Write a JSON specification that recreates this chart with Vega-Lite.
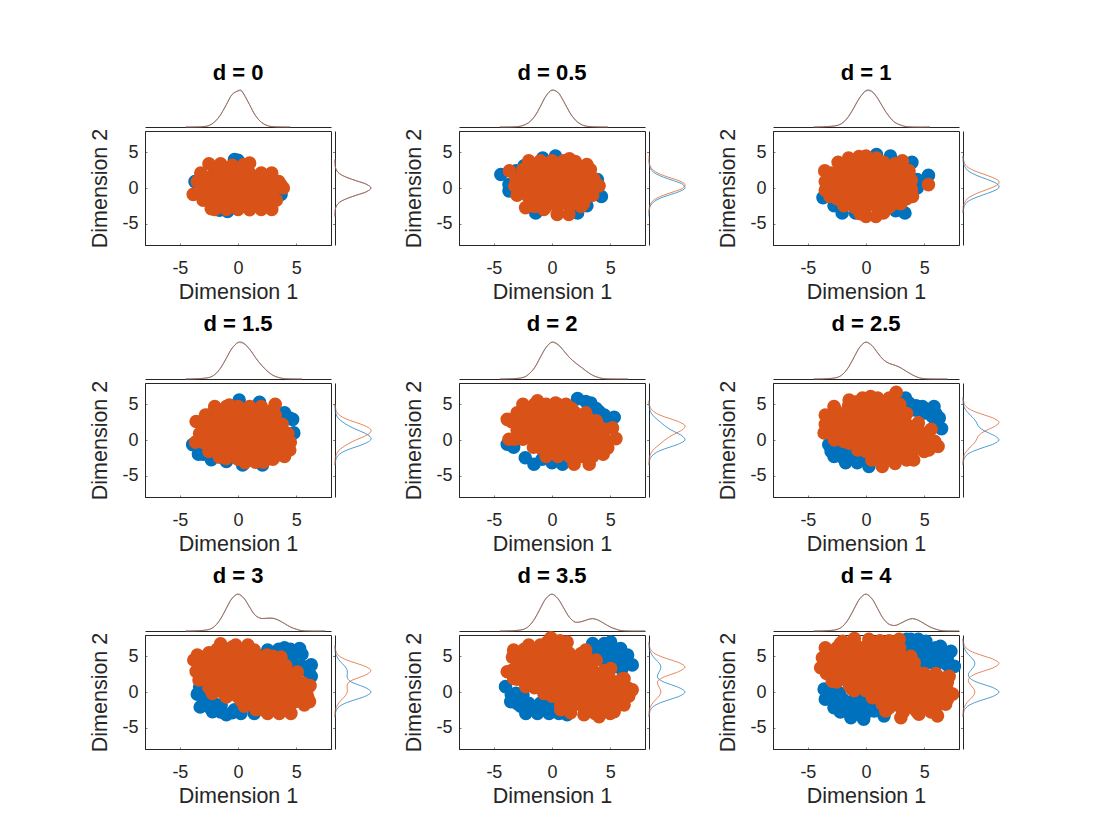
{"$schema":"https://vega.github.io/schema/vega-lite/v6.json","background":"white","padding":{"left":89,"top":62,"right":0,"bottom":0},"columns":6,"spacing":4,"bounds":"flush","align":"each",
"config":{"view":{"stroke":null},"font":"Liberation Sans","legend":{"disable":true},"range":{"category":["#0072BD","#D95319"]},
"title":{"fontSize":22,"fontWeight":"bold","color":"#000000","font":"Liberation Sans"},
"axis":{"grid":false,"labelFont":"Liberation Sans","titleFont":"Liberation Sans","labelFontSize":18,"titleFontSize":21.5,"titleFontWeight":"normal","labelColor":"#262626","titleColor":"#262626","domainColor":"#262626","tickColor":"#262626","domainWidth":1,"tickWidth":0.6,"tickSize":-2,"labelFlush":false,"labelOverlap":false},
"axisX":{"labelPadding":16,"titlePadding":4.5},"axisY":{"labelPadding":9,"titlePadding":10}},
"datasets":{
"s0":[{"g":"a","x":-0.3,"y":4},{"g":"a","x":0,"y":3.9},{"g":"a","x":-0.9,"y":-3.3},{"g":"a","x":-1.6,"y":-3.1},{"g":"a","x":-3.7,"y":0.9},{"g":"a","x":3.7,"y":-0.9},{"g":"b","x":-2.5,"y":3.4},{"g":"b","x":-1.5,"y":3.4},{"g":"b","x":-0.5,"y":3.2},{"g":"b","x":0.5,"y":3.3},{"g":"b","x":1,"y":3.5},{"g":"b","x":-3.2,"y":2.1},{"g":"b","x":-2,"y":2.1},{"g":"b","x":-1,"y":2.1},{"g":"b","x":0,"y":2.1},{"g":"b","x":1,"y":2.1},{"g":"b","x":2,"y":2.1},{"g":"b","x":2.9,"y":2.1},{"g":"b","x":-3.5,"y":0.9},{"g":"b","x":-2.5,"y":0.9},{"g":"b","x":-1.5,"y":0.9},{"g":"b","x":-0.5,"y":0.9},{"g":"b","x":0.5,"y":0.9},{"g":"b","x":1.5,"y":0.9},{"g":"b","x":2.5,"y":0.9},{"g":"b","x":3.5,"y":0.9},{"g":"b","x":3.7,"y":0.4},{"g":"b","x":-3.85,"y":-0.9},{"g":"b","x":-3,"y":-0.4},{"g":"b","x":-2,"y":-0.4},{"g":"b","x":-1,"y":-0.4},{"g":"b","x":0,"y":-0.4},{"g":"b","x":1,"y":-0.4},{"g":"b","x":2,"y":-0.4},{"g":"b","x":3,"y":-0.4},{"g":"b","x":3.9,"y":0},{"g":"b","x":-3,"y":-1.7},{"g":"b","x":-2.5,"y":-1.7},{"g":"b","x":-1.5,"y":-1.7},{"g":"b","x":-0.5,"y":-1.7},{"g":"b","x":0.5,"y":-1.7},{"g":"b","x":1.5,"y":-1.7},{"g":"b","x":2.5,"y":-1.7},{"g":"b","x":3.3,"y":-1.7},{"g":"b","x":-2.3,"y":-2.9},{"g":"b","x":-2,"y":-3},{"g":"b","x":-1,"y":-3},{"g":"b","x":0,"y":-3},{"g":"b","x":1,"y":-3.05},{"g":"b","x":2,"y":-3},{"g":"b","x":2.9,"y":-3},{"g":"b","x":-2,"y":2.75},{"g":"b","x":-0.8,"y":2.75},{"g":"b","x":0.4,"y":2.75},{"g":"b","x":-2.7,"y":1.5},{"g":"b","x":-1.5,"y":1.5},{"g":"b","x":-0.3,"y":1.5},{"g":"b","x":0.9,"y":1.5},{"g":"b","x":2.1,"y":1.5},{"g":"b","x":-3,"y":0.25},{"g":"b","x":-1.8,"y":0.25},{"g":"b","x":-0.6,"y":0.25},{"g":"b","x":0.6,"y":0.25},{"g":"b","x":1.8,"y":0.25},{"g":"b","x":3,"y":0.25},{"g":"b","x":-3,"y":-1},{"g":"b","x":-1.8,"y":-1},{"g":"b","x":-0.6,"y":-1},{"g":"b","x":0.6,"y":-1},{"g":"b","x":1.8,"y":-1},{"g":"b","x":3,"y":-1},{"g":"b","x":-1.8,"y":-2.3},{"g":"b","x":-0.6,"y":-2.3},{"g":"b","x":0.6,"y":-2.3},{"g":"b","x":1.8,"y":-2.3}],
"s1":[{"g":"a","x":-4.4,"y":1.9},{"g":"a","x":-3.7,"y":-0.4},{"g":"a","x":-3.7,"y":0.5},{"g":"a","x":4.25,"y":-1.2},{"g":"a","x":0.3,"y":4.5},{"g":"a","x":-0.8,"y":4.2},{"g":"a","x":-1.4,"y":-3.5},{"g":"a","x":2.2,"y":-3.5},{"g":"a","x":3.9,"y":1.2},{"g":"a","x":-3.1,"y":2.4},{"g":"a","x":-2.4,"y":3.1},{"g":"a","x":3,"y":-2.5},{"g":"b","x":-2,"y":3.8},{"g":"b","x":-1,"y":3.8},{"g":"b","x":0,"y":3.8},{"g":"b","x":1,"y":3.8},{"g":"b","x":1.5,"y":4.1},{"g":"b","x":3,"y":3.3},{"g":"b","x":2,"y":3.7},{"g":"b","x":-3.66,"y":2.4},{"g":"b","x":-2.5,"y":2.6},{"g":"b","x":-1.5,"y":2.6},{"g":"b","x":-0.5,"y":2.6},{"g":"b","x":0.5,"y":2.6},{"g":"b","x":1.5,"y":2.6},{"g":"b","x":2.5,"y":2.6},{"g":"b","x":3.3,"y":2.6},{"g":"b","x":-3.1,"y":1.3},{"g":"b","x":-2,"y":1.3},{"g":"b","x":-1,"y":1.3},{"g":"b","x":0,"y":1.3},{"g":"b","x":1,"y":1.3},{"g":"b","x":2,"y":1.3},{"g":"b","x":3,"y":1.3},{"g":"b","x":3.6,"y":1.3},{"g":"b","x":-3.2,"y":0.3},{"g":"b","x":-2.5,"y":0},{"g":"b","x":-1.5,"y":0},{"g":"b","x":-0.5,"y":0},{"g":"b","x":0.5,"y":0},{"g":"b","x":1.5,"y":0},{"g":"b","x":2.5,"y":0},{"g":"b","x":3.5,"y":0},{"g":"b","x":4.05,"y":0.3},{"g":"b","x":-3,"y":-1},{"g":"b","x":-2,"y":-1.3},{"g":"b","x":-1,"y":-1.3},{"g":"b","x":0,"y":-1.3},{"g":"b","x":1,"y":-1.3},{"g":"b","x":2,"y":-1.3},{"g":"b","x":3,"y":-1.3},{"g":"b","x":3.5,"y":-1},{"g":"b","x":-2.27,"y":-2.75},{"g":"b","x":-1.5,"y":-2.6},{"g":"b","x":-0.5,"y":-2.6},{"g":"b","x":0.5,"y":-2.6},{"g":"b","x":1.5,"y":-2.6},{"g":"b","x":2.5,"y":-2.6},{"g":"b","x":2.7,"y":-2.2},{"g":"b","x":-0.7,"y":-3},{"g":"b","x":0.45,"y":-3.7},{"g":"b","x":1.45,"y":-3.7},{"g":"b","x":-1.5,"y":3.2},{"g":"b","x":-0.3,"y":3.2},{"g":"b","x":0.9,"y":3.2},{"g":"b","x":2.1,"y":3.2},{"g":"b","x":-2.5,"y":1.95},{"g":"b","x":-1.3,"y":1.95},{"g":"b","x":-0.1,"y":1.95},{"g":"b","x":1.1,"y":1.95},{"g":"b","x":2.3,"y":1.95},{"g":"b","x":-2.5,"y":0.65},{"g":"b","x":-1.3,"y":0.65},{"g":"b","x":-0.1,"y":0.65},{"g":"b","x":1.1,"y":0.65},{"g":"b","x":2.3,"y":0.65},{"g":"b","x":3.3,"y":0.65},{"g":"b","x":-2.5,"y":-0.65},{"g":"b","x":-1.3,"y":-0.65},{"g":"b","x":-0.1,"y":-0.65},{"g":"b","x":1.1,"y":-0.65},{"g":"b","x":2.3,"y":-0.65},{"g":"b","x":3.3,"y":-0.65},{"g":"b","x":-1.7,"y":-1.95},{"g":"b","x":-0.5,"y":-1.95},{"g":"b","x":0.7,"y":-1.95},{"g":"b","x":1.9,"y":-1.95},{"g":"b","x":2.7,"y":-1.95}],
"s2":[{"g":"a","x":-3.7,"y":-1.35},{"g":"a","x":-2.05,"y":-3.5},{"g":"a","x":-2.75,"y":-2.5},{"g":"a","x":-0.9,"y":-3.5},{"g":"a","x":3.35,"y":-3.5},{"g":"a","x":2.55,"y":-3.2},{"g":"a","x":0.9,"y":4.7},{"g":"a","x":2.1,"y":4.5},{"g":"a","x":3.95,"y":3.6},{"g":"a","x":4.4,"y":1.2},{"g":"a","x":4.4,"y":0},{"g":"a","x":5.37,"y":1.77},{"g":"b","x":5.37,"y":0.47},{"g":"b","x":-1.5,"y":4.2},{"g":"b","x":-0.6,"y":4.4},{"g":"b","x":0,"y":4.5},{"g":"b","x":0.9,"y":4.2},{"g":"b","x":-2.4,"y":3.6},{"g":"b","x":-1.5,"y":3.3},{"g":"b","x":-0.5,"y":3.3},{"g":"b","x":0.5,"y":3.3},{"g":"b","x":1.5,"y":3.6},{"g":"b","x":2.5,"y":3.4},{"g":"b","x":3.13,"y":3.8},{"g":"b","x":-3.55,"y":2.4},{"g":"b","x":-3,"y":2.1},{"g":"b","x":-2,"y":2.1},{"g":"b","x":-1,"y":2.1},{"g":"b","x":0,"y":2.1},{"g":"b","x":1,"y":2.1},{"g":"b","x":2,"y":2.1},{"g":"b","x":3,"y":2.1},{"g":"b","x":3.7,"y":2.4},{"g":"b","x":-3.5,"y":0.9},{"g":"b","x":-2.5,"y":0.9},{"g":"b","x":-1.5,"y":0.9},{"g":"b","x":-0.5,"y":0.9},{"g":"b","x":0.5,"y":0.9},{"g":"b","x":1.5,"y":0.9},{"g":"b","x":2.5,"y":0.9},{"g":"b","x":3.5,"y":0.9},{"g":"b","x":3.9,"y":1.1},{"g":"b","x":-3.5,"y":-0.3},{"g":"b","x":-3,"y":-0.3},{"g":"b","x":-2,"y":-0.3},{"g":"b","x":-1,"y":-0.3},{"g":"b","x":0,"y":-0.3},{"g":"b","x":1,"y":-0.3},{"g":"b","x":2,"y":-0.3},{"g":"b","x":3,"y":-0.3},{"g":"b","x":3.9,"y":-0.2},{"g":"b","x":-3.1,"y":-1.2},{"g":"b","x":-2.5,"y":-1.5},{"g":"b","x":-1.5,"y":-1.5},{"g":"b","x":-0.5,"y":-1.5},{"g":"b","x":0.5,"y":-1.5},{"g":"b","x":1.5,"y":-1.5},{"g":"b","x":2.5,"y":-1.5},{"g":"b","x":3.5,"y":-1.5},{"g":"b","x":4,"y":-1.2},{"g":"b","x":-1.9,"y":-2.5},{"g":"b","x":-1,"y":-2.7},{"g":"b","x":0,"y":-2.7},{"g":"b","x":1,"y":-2.7},{"g":"b","x":2,"y":-2.7},{"g":"b","x":3,"y":-2.2},{"g":"b","x":0,"y":-4},{"g":"b","x":0.85,"y":-4},{"g":"b","x":-0.5,"y":-3.6},{"g":"b","x":1.5,"y":-3.5},{"g":"b","x":-0.8,"y":3.8},{"g":"b","x":0.4,"y":3.8},{"g":"b","x":-2,"y":2.7},{"g":"b","x":-0.8,"y":2.7},{"g":"b","x":0.4,"y":2.7},{"g":"b","x":1.6,"y":2.7},{"g":"b","x":2.8,"y":2.7},{"g":"b","x":-2.9,"y":1.5},{"g":"b","x":-1.7,"y":1.5},{"g":"b","x":-0.5,"y":1.5},{"g":"b","x":0.7,"y":1.5},{"g":"b","x":1.9,"y":1.5},{"g":"b","x":3.1,"y":1.5},{"g":"b","x":-2.9,"y":0.3},{"g":"b","x":-1.7,"y":0.3},{"g":"b","x":-0.5,"y":0.3},{"g":"b","x":0.7,"y":0.3},{"g":"b","x":1.9,"y":0.3},{"g":"b","x":3.1,"y":0.3},{"g":"b","x":-2.9,"y":-0.9},{"g":"b","x":-1.7,"y":-0.9},{"g":"b","x":-0.5,"y":-0.9},{"g":"b","x":0.7,"y":-0.9},{"g":"b","x":1.9,"y":-0.9},{"g":"b","x":3.1,"y":-0.9},{"g":"b","x":-1.7,"y":-2.1},{"g":"b","x":-0.5,"y":-2.1},{"g":"b","x":0.7,"y":-2.1},{"g":"b","x":1.9,"y":-2.1},{"g":"b","x":2.7,"y":-2.1}],
"s3":[{"g":"a","x":4.4,"y":3.1},{"g":"a","x":4,"y":3.8},{"g":"a","x":4.7,"y":2.9},{"g":"a","x":-3,"y":-2},{"g":"a","x":-3.4,"y":-2},{"g":"a","x":-2.3,"y":-2.75},{"g":"a","x":-1,"y":-3},{"g":"a","x":0.4,"y":-3.5},{"g":"a","x":1.85,"y":5.3},{"g":"a","x":0.1,"y":5.6},{"g":"a","x":2.1,"y":-3.5},{"g":"a","x":4.8,"y":1},{"g":"a","x":-3.9,"y":-0.65},{"g":"b","x":-2,"y":4.7},{"g":"b","x":-1,"y":4.7},{"g":"b","x":-0.75,"y":4.9},{"g":"b","x":0,"y":4.7},{"g":"b","x":1,"y":4.7},{"g":"b","x":2,"y":4.7},{"g":"b","x":3.2,"y":5},{"g":"b","x":-2.8,"y":3.5},{"g":"b","x":-2.5,"y":3.5},{"g":"b","x":-1.5,"y":3.5},{"g":"b","x":-0.5,"y":3.5},{"g":"b","x":0.5,"y":3.5},{"g":"b","x":1.5,"y":3.5},{"g":"b","x":2.5,"y":3.5},{"g":"b","x":3.2,"y":3.5},{"g":"b","x":-3.6,"y":2.6},{"g":"b","x":-3,"y":2.2},{"g":"b","x":-2,"y":2.2},{"g":"b","x":-1,"y":2.2},{"g":"b","x":0,"y":2.2},{"g":"b","x":1,"y":2.2},{"g":"b","x":2,"y":2.2},{"g":"b","x":3,"y":2.2},{"g":"b","x":3.8,"y":2.2},{"g":"b","x":-3.3,"y":0.9},{"g":"b","x":-2.5,"y":0.9},{"g":"b","x":-1.5,"y":0.9},{"g":"b","x":-0.5,"y":0.9},{"g":"b","x":0.5,"y":0.9},{"g":"b","x":1.5,"y":0.9},{"g":"b","x":2.5,"y":0.9},{"g":"b","x":3.5,"y":0.9},{"g":"b","x":4.3,"y":0.9},{"g":"b","x":-3.65,"y":-0.3},{"g":"b","x":-3,"y":-0.3},{"g":"b","x":-2,"y":-0.3},{"g":"b","x":-1,"y":-0.3},{"g":"b","x":0,"y":-0.3},{"g":"b","x":1,"y":-0.3},{"g":"b","x":2,"y":-0.3},{"g":"b","x":3,"y":-0.3},{"g":"b","x":4,"y":-0.3},{"g":"b","x":4.5,"y":-0.3},{"g":"b","x":-2.5,"y":-1.6},{"g":"b","x":-1.5,"y":-1.6},{"g":"b","x":-0.5,"y":-1.6},{"g":"b","x":0.5,"y":-1.6},{"g":"b","x":1.5,"y":-1.6},{"g":"b","x":2.5,"y":-1.6},{"g":"b","x":3.5,"y":-1.6},{"g":"b","x":4.45,"y":-1.4},{"g":"b","x":-1.6,"y":-2.4},{"g":"b","x":-1,"y":-2.6},{"g":"b","x":0,"y":-2.7},{"g":"b","x":1,"y":-2.7},{"g":"b","x":2,"y":-2.7},{"g":"b","x":3,"y":-2.7},{"g":"b","x":4,"y":-2.3},{"g":"b","x":0.6,"y":-3.2},{"g":"b","x":1.5,"y":-3.1},{"g":"b","x":2.2,"y":-3.1},{"g":"b","x":-1.9,"y":4.1},{"g":"b","x":-0.7,"y":4.1},{"g":"b","x":0.5,"y":4.1},{"g":"b","x":1.7,"y":4.1},{"g":"b","x":2.9,"y":4.1},{"g":"b","x":-2.8,"y":2.85},{"g":"b","x":-1.6,"y":2.85},{"g":"b","x":-0.4,"y":2.85},{"g":"b","x":0.8,"y":2.85},{"g":"b","x":2,"y":2.85},{"g":"b","x":3,"y":2.85},{"g":"b","x":-2.9,"y":1.55},{"g":"b","x":-1.7,"y":1.55},{"g":"b","x":-0.5,"y":1.55},{"g":"b","x":0.7,"y":1.55},{"g":"b","x":1.9,"y":1.55},{"g":"b","x":3.1,"y":1.55},{"g":"b","x":-2.9,"y":0.3},{"g":"b","x":-1.7,"y":0.3},{"g":"b","x":-0.5,"y":0.3},{"g":"b","x":0.7,"y":0.3},{"g":"b","x":1.9,"y":0.3},{"g":"b","x":3.1,"y":0.3},{"g":"b","x":4,"y":0.3},{"g":"b","x":-2.5,"y":-0.95},{"g":"b","x":-1.3,"y":-0.95},{"g":"b","x":-0.1,"y":-0.95},{"g":"b","x":1.1,"y":-0.95},{"g":"b","x":2.3,"y":-0.95},{"g":"b","x":3.5,"y":-0.95},{"g":"b","x":-1.3,"y":-2.1},{"g":"b","x":-0.1,"y":-2.1},{"g":"b","x":1.1,"y":-2.1},{"g":"b","x":2.3,"y":-2.1},{"g":"b","x":3.5,"y":-2.1}],
"s4":[{"g":"a","x":-3.85,"y":-0.6},{"g":"a","x":-3.3,"y":-1},{"g":"a","x":-2.3,"y":-2.5},{"g":"a","x":-1.55,"y":-3.4},{"g":"a","x":0,"y":-3.2},{"g":"a","x":0.9,"y":-3.4},{"g":"a","x":-0.85,"y":-2.7},{"g":"a","x":2.2,"y":5.8},{"g":"a","x":3.35,"y":5.2},{"g":"a","x":4.05,"y":4},{"g":"a","x":5.35,"y":3.2},{"g":"a","x":4.8,"y":2.9},{"g":"a","x":2.9,"y":5.4},{"g":"a","x":3.8,"y":4.4},{"g":"a","x":4.5,"y":3.5},{"g":"b","x":-2.5,"y":5},{"g":"b","x":-1.5,"y":5},{"g":"b","x":-1.25,"y":5.5},{"g":"b","x":-0.5,"y":5},{"g":"b","x":0.3,"y":5.2},{"g":"b","x":0.5,"y":5},{"g":"b","x":1.2,"y":5},{"g":"b","x":-3,"y":3.8},{"g":"b","x":-2,"y":3.8},{"g":"b","x":-1,"y":3.8},{"g":"b","x":0,"y":3.8},{"g":"b","x":1,"y":3.8},{"g":"b","x":2,"y":3.8},{"g":"b","x":2.9,"y":3.8},{"g":"b","x":-3.85,"y":2.9},{"g":"b","x":-3.5,"y":2.6},{"g":"b","x":-2.5,"y":2.6},{"g":"b","x":-1.5,"y":2.6},{"g":"b","x":-0.5,"y":2.6},{"g":"b","x":0.5,"y":2.6},{"g":"b","x":1.5,"y":2.6},{"g":"b","x":2.5,"y":2.6},{"g":"b","x":3.5,"y":2.6},{"g":"b","x":3.8,"y":2.7},{"g":"b","x":-3,"y":1.4},{"g":"b","x":-2,"y":1.4},{"g":"b","x":-1,"y":1.4},{"g":"b","x":0,"y":1.4},{"g":"b","x":1,"y":1.4},{"g":"b","x":2,"y":1.4},{"g":"b","x":3,"y":1.4},{"g":"b","x":4,"y":1.4},{"g":"b","x":4.6,"y":1.5},{"g":"b","x":5.2,"y":1.7},{"g":"b","x":-3.7,"y":0.1},{"g":"b","x":-3.2,"y":0.1},{"g":"b","x":-2.5,"y":0.1},{"g":"b","x":-1.5,"y":0.1},{"g":"b","x":-0.5,"y":0.1},{"g":"b","x":0.5,"y":0.1},{"g":"b","x":1.5,"y":0.1},{"g":"b","x":2.5,"y":0.1},{"g":"b","x":3.5,"y":0.1},{"g":"b","x":4.5,"y":0.1},{"g":"b","x":5.5,"y":0.2},{"g":"b","x":-1.6,"y":-1},{"g":"b","x":-1,"y":-1.1},{"g":"b","x":0,"y":-1.1},{"g":"b","x":1,"y":-1.1},{"g":"b","x":2,"y":-1.1},{"g":"b","x":3,"y":-1.1},{"g":"b","x":4,"y":-1.1},{"g":"b","x":4.8,"y":-1.1},{"g":"b","x":-0.5,"y":-2.3},{"g":"b","x":0.5,"y":-2.3},{"g":"b","x":1.5,"y":-2.3},{"g":"b","x":2.5,"y":-2.3},{"g":"b","x":3.5,"y":-2.3},{"g":"b","x":4.4,"y":-2},{"g":"b","x":1.9,"y":-3.4},{"g":"b","x":3.2,"y":-3.4},{"g":"b","x":-1.9,"y":4.4},{"g":"b","x":-0.7,"y":4.4},{"g":"b","x":0.5,"y":4.4},{"g":"b","x":1.7,"y":4.4},{"g":"b","x":-2.8,"y":3.2},{"g":"b","x":-1.6,"y":3.2},{"g":"b","x":-0.4,"y":3.2},{"g":"b","x":0.8,"y":3.2},{"g":"b","x":2,"y":3.2},{"g":"b","x":3,"y":3.2},{"g":"b","x":-2.8,"y":2},{"g":"b","x":-1.6,"y":2},{"g":"b","x":-0.4,"y":2},{"g":"b","x":0.8,"y":2},{"g":"b","x":2,"y":2},{"g":"b","x":3,"y":2},{"g":"b","x":4,"y":2},{"g":"b","x":-2.8,"y":0.75},{"g":"b","x":-1.6,"y":0.75},{"g":"b","x":-0.4,"y":0.75},{"g":"b","x":0.8,"y":0.75},{"g":"b","x":2,"y":0.75},{"g":"b","x":3.2,"y":0.75},{"g":"b","x":4.4,"y":0.75},{"g":"b","x":-1.4,"y":-0.5},{"g":"b","x":-0.2,"y":-0.5},{"g":"b","x":1,"y":-0.5},{"g":"b","x":2.2,"y":-0.5},{"g":"b","x":3.4,"y":-0.5},{"g":"b","x":4.6,"y":-0.5},{"g":"b","x":-0.3,"y":-1.7},{"g":"b","x":0.9,"y":-1.7},{"g":"b","x":2.1,"y":-1.7},{"g":"b","x":3.3,"y":-1.7},{"g":"b","x":4.1,"y":-1.7}],
"s5":[{"g":"a","x":5.85,"y":4.7},{"g":"a","x":4.85,"y":4.7},{"g":"a","x":3.7,"y":5.2},{"g":"a","x":6.3,"y":3.1},{"g":"a","x":6.5,"y":1.6},{"g":"a","x":5.1,"y":3.8},{"g":"a","x":4.3,"y":4.2},{"g":"a","x":5.7,"y":3.3},{"g":"a","x":3.4,"y":5.9},{"g":"a","x":5.4,"y":4.1},{"g":"a","x":6,"y":2.3},{"g":"a","x":4.3,"y":4.8},{"g":"a","x":5.3,"y":4.3},{"g":"a","x":6,"y":3.7},{"g":"a","x":-3.2,"y":-0.65},{"g":"a","x":-2.75,"y":-2.3},{"g":"a","x":-1.75,"y":-3.2},{"g":"a","x":-0.75,"y":-3.2},{"g":"a","x":0.25,"y":-3.7},{"g":"a","x":-2,"y":-1.35},{"g":"a","x":-1,"y":-2},{"g":"a","x":-3,"y":-1.6},{"g":"a","x":0,"y":-2.5},{"g":"a","x":-2,"y":-2.5},{"g":"a","x":-2.5,"y":-1.3},{"g":"a","x":-1.5,"y":-2.5},{"g":"a","x":-0.5,"y":-2.5},{"g":"b","x":2.6,"y":6.7},{"g":"b","x":-0.3,"y":5.9},{"g":"b","x":0.4,"y":6.1},{"g":"b","x":1,"y":5.9},{"g":"b","x":2,"y":5.9},{"g":"b","x":-2.75,"y":4.7},{"g":"b","x":-1.45,"y":5.6},{"g":"b","x":-1.5,"y":4.8},{"g":"b","x":-0.5,"y":4.8},{"g":"b","x":0.5,"y":4.8},{"g":"b","x":1.5,"y":4.8},{"g":"b","x":2.5,"y":4.8},{"g":"b","x":2.9,"y":5},{"g":"b","x":-3.5,"y":3.5},{"g":"b","x":-3,"y":3.5},{"g":"b","x":-2,"y":3.5},{"g":"b","x":-1,"y":3.5},{"g":"b","x":0,"y":3.5},{"g":"b","x":1,"y":3.5},{"g":"b","x":2,"y":3.5},{"g":"b","x":3,"y":3.5},{"g":"b","x":3.5,"y":3.7},{"g":"b","x":-3.5,"y":2.2},{"g":"b","x":-2.5,"y":2.2},{"g":"b","x":-1.5,"y":2.2},{"g":"b","x":-0.5,"y":2.2},{"g":"b","x":0.5,"y":2.2},{"g":"b","x":1.5,"y":2.2},{"g":"b","x":2.5,"y":2.2},{"g":"b","x":3.5,"y":2.2},{"g":"b","x":4.5,"y":2.4},{"g":"b","x":-3.6,"y":1},{"g":"b","x":-3,"y":0.9},{"g":"b","x":-2,"y":0.9},{"g":"b","x":-1,"y":0.9},{"g":"b","x":0,"y":0.9},{"g":"b","x":1,"y":0.9},{"g":"b","x":2,"y":0.9},{"g":"b","x":3,"y":0.9},{"g":"b","x":4,"y":0.9},{"g":"b","x":5,"y":0.9},{"g":"b","x":5.6,"y":1.5},{"g":"b","x":-2.7,"y":0},{"g":"b","x":-1.9,"y":-0.2},{"g":"b","x":-1.5,"y":-0.4},{"g":"b","x":-0.5,"y":-0.4},{"g":"b","x":0.5,"y":-0.4},{"g":"b","x":1.5,"y":-0.4},{"g":"b","x":2.5,"y":-0.4},{"g":"b","x":3.5,"y":-0.4},{"g":"b","x":4.5,"y":-0.4},{"g":"b","x":5.5,"y":-0.4},{"g":"b","x":5.9,"y":-0.2},{"g":"b","x":6.2,"y":-0.9},{"g":"b","x":-0.7,"y":-1.4},{"g":"b","x":0,"y":-1.6},{"g":"b","x":1,"y":-1.6},{"g":"b","x":2,"y":-1.6},{"g":"b","x":3,"y":-1.6},{"g":"b","x":4,"y":-1.6},{"g":"b","x":5,"y":-1.6},{"g":"b","x":5.4,"y":-1.4},{"g":"b","x":0.5,"y":-2.8},{"g":"b","x":1.5,"y":-2.8},{"g":"b","x":2.5,"y":-2.8},{"g":"b","x":3.5,"y":-2.8},{"g":"b","x":4.1,"y":-2.8},{"g":"b","x":1.4,"y":-3.7},{"g":"b","x":2.5,"y":-3.3},{"g":"b","x":-0.8,"y":5.35},{"g":"b","x":0.4,"y":5.35},{"g":"b","x":1.6,"y":5.35},{"g":"b","x":-2.6,"y":4.15},{"g":"b","x":-1.4,"y":4.15},{"g":"b","x":-0.2,"y":4.15},{"g":"b","x":1,"y":4.15},{"g":"b","x":2.2,"y":4.15},{"g":"b","x":3,"y":4.15},{"g":"b","x":-2.9,"y":2.85},{"g":"b","x":-1.7,"y":2.85},{"g":"b","x":-0.5,"y":2.85},{"g":"b","x":0.7,"y":2.85},{"g":"b","x":1.9,"y":2.85},{"g":"b","x":3.1,"y":2.85},{"g":"b","x":-2.9,"y":1.55},{"g":"b","x":-1.7,"y":1.55},{"g":"b","x":-0.5,"y":1.55},{"g":"b","x":0.7,"y":1.55},{"g":"b","x":1.9,"y":1.55},{"g":"b","x":3.1,"y":1.55},{"g":"b","x":4.3,"y":1.55},{"g":"b","x":-1.7,"y":0.25},{"g":"b","x":-0.5,"y":0.25},{"g":"b","x":0.7,"y":0.25},{"g":"b","x":1.9,"y":0.25},{"g":"b","x":3.1,"y":0.25},{"g":"b","x":4.3,"y":0.25},{"g":"b","x":5.3,"y":0.25},{"g":"b","x":0.2,"y":-1},{"g":"b","x":1.4,"y":-1},{"g":"b","x":2.6,"y":-1},{"g":"b","x":3.8,"y":-1},{"g":"b","x":5,"y":-1},{"g":"b","x":0.8,"y":-2.2},{"g":"b","x":2,"y":-2.2},{"g":"b","x":3.2,"y":-2.2},{"g":"b","x":3.8,"y":-2.2}],
"s6":[{"g":"a","x":2.55,"y":5.9},{"g":"a","x":3.5,"y":6},{"g":"a","x":4,"y":6.2},{"g":"a","x":4.5,"y":6},{"g":"a","x":5.3,"y":6.1},{"g":"a","x":3.1,"y":5.4},{"g":"a","x":4,"y":4.8},{"g":"a","x":5,"y":4.8},{"g":"a","x":4.7,"y":4.5},{"g":"a","x":5.5,"y":3.6},{"g":"a","x":6.3,"y":3.8},{"g":"a","x":5.7,"y":3.5},{"g":"a","x":6.15,"y":2.6},{"g":"a","x":6.3,"y":2.2},{"g":"a","x":4.5,"y":5.3},{"g":"a","x":5.5,"y":5.3},{"g":"a","x":3.5,"y":5.4},{"g":"a","x":5,"y":4},{"g":"a","x":6,"y":3.2},{"g":"a","x":-3.3,"y":0.7},{"g":"a","x":-3.5,"y":-0.3},{"g":"a","x":-2.5,"y":-0.5},{"g":"a","x":-3,"y":-1},{"g":"a","x":-3.25,"y":-2.1},{"g":"a","x":-2.6,"y":-1.35},{"g":"a","x":-2.5,"y":-2.1},{"g":"a","x":-2,"y":-1.7},{"g":"a","x":-1.45,"y":-1.8},{"g":"a","x":-1.5,"y":-2.3},{"g":"a","x":-2.2,"y":-2.75},{"g":"a","x":-1.5,"y":-2.8},{"g":"a","x":-1,"y":-3.2},{"g":"a","x":-0.5,"y":-2.9},{"g":"a","x":-0.3,"y":-2.5},{"g":"a","x":0.25,"y":-3},{"g":"a","x":1.4,"y":-3},{"g":"b","x":-1.5,"y":6.75},{"g":"b","x":-0.5,"y":6.3},{"g":"b","x":-0.2,"y":6.6},{"g":"b","x":0.85,"y":6.6},{"g":"b","x":-3.5,"y":5.2},{"g":"b","x":-2.5,"y":5.5},{"g":"b","x":-1.5,"y":5.5},{"g":"b","x":-0.5,"y":5.5},{"g":"b","x":0.5,"y":5.5},{"g":"b","x":1.4,"y":5.9},{"g":"b","x":2.5,"y":5.2},{"g":"b","x":3,"y":5},{"g":"b","x":-3.8,"y":4.5},{"g":"b","x":-3,"y":4.3},{"g":"b","x":-2,"y":4.3},{"g":"b","x":-1,"y":4.3},{"g":"b","x":0,"y":4.3},{"g":"b","x":1,"y":4.3},{"g":"b","x":2,"y":4.3},{"g":"b","x":3,"y":4.3},{"g":"b","x":3.7,"y":4.9},{"g":"b","x":-3.6,"y":2.9},{"g":"b","x":-2.5,"y":3.1},{"g":"b","x":-1.5,"y":3.1},{"g":"b","x":-0.5,"y":3.1},{"g":"b","x":0.5,"y":3.1},{"g":"b","x":1.5,"y":3.1},{"g":"b","x":2.5,"y":3.1},{"g":"b","x":3.5,"y":3.1},{"g":"b","x":4.1,"y":3.7},{"g":"b","x":-3.35,"y":1.7},{"g":"b","x":-3,"y":1.9},{"g":"b","x":-2,"y":1.9},{"g":"b","x":-1,"y":1.9},{"g":"b","x":0,"y":1.9},{"g":"b","x":1,"y":1.9},{"g":"b","x":2,"y":1.9},{"g":"b","x":3,"y":1.9},{"g":"b","x":4,"y":1.9},{"g":"b","x":5.1,"y":2.8},{"g":"b","x":5,"y":1.9},{"g":"b","x":-2.5,"y":0.6},{"g":"b","x":-1.5,"y":0.6},{"g":"b","x":-0.5,"y":0.6},{"g":"b","x":0.5,"y":0.6},{"g":"b","x":1.5,"y":0.6},{"g":"b","x":2.5,"y":0.6},{"g":"b","x":3.5,"y":0.6},{"g":"b","x":4.5,"y":0.6},{"g":"b","x":5.5,"y":0.6},{"g":"b","x":6.2,"y":0.9},{"g":"b","x":-2.2,"y":-0.2},{"g":"b","x":-1,"y":-0.7},{"g":"b","x":0,"y":-0.7},{"g":"b","x":1,"y":-0.7},{"g":"b","x":2,"y":-0.7},{"g":"b","x":3,"y":-0.7},{"g":"b","x":4,"y":-0.7},{"g":"b","x":5,"y":-0.7},{"g":"b","x":6,"y":-0.7},{"g":"b","x":6.15,"y":-1.35},{"g":"b","x":0.55,"y":-2},{"g":"b","x":1.5,"y":-1.9},{"g":"b","x":2.5,"y":-1.9},{"g":"b","x":3.5,"y":-1.9},{"g":"b","x":4.5,"y":-1.9},{"g":"b","x":5.7,"y":-1.8},{"g":"b","x":1.55,"y":-2.5},{"g":"b","x":2.55,"y":-3},{"g":"b","x":3.55,"y":-3},{"g":"b","x":4.55,"y":-3},{"g":"b","x":-1.8,"y":6},{"g":"b","x":-0.6,"y":6},{"g":"b","x":0.4,"y":6},{"g":"b","x":-2.9,"y":4.9},{"g":"b","x":-1.7,"y":4.9},{"g":"b","x":-0.5,"y":4.9},{"g":"b","x":0.7,"y":4.9},{"g":"b","x":1.9,"y":4.9},{"g":"b","x":-3,"y":3.7},{"g":"b","x":-1.8,"y":3.7},{"g":"b","x":-0.6,"y":3.7},{"g":"b","x":0.6,"y":3.7},{"g":"b","x":1.8,"y":3.7},{"g":"b","x":3,"y":3.7},{"g":"b","x":-2.7,"y":2.5},{"g":"b","x":-1.5,"y":2.5},{"g":"b","x":-0.3,"y":2.5},{"g":"b","x":0.9,"y":2.5},{"g":"b","x":2.1,"y":2.5},{"g":"b","x":3.3,"y":2.5},{"g":"b","x":4.4,"y":2.5},{"g":"b","x":-2.5,"y":1.25},{"g":"b","x":-1.3,"y":1.25},{"g":"b","x":-0.1,"y":1.25},{"g":"b","x":1.1,"y":1.25},{"g":"b","x":2.3,"y":1.25},{"g":"b","x":3.5,"y":1.25},{"g":"b","x":4.7,"y":1.25},{"g":"b","x":5.6,"y":1.25},{"g":"b","x":-1.3,"y":-0.05},{"g":"b","x":-0.1,"y":-0.05},{"g":"b","x":1.1,"y":-0.05},{"g":"b","x":2.3,"y":-0.05},{"g":"b","x":3.5,"y":-0.05},{"g":"b","x":4.7,"y":-0.05},{"g":"b","x":5.9,"y":-0.05},{"g":"b","x":0.3,"y":-1.3},{"g":"b","x":1.5,"y":-1.3},{"g":"b","x":2.7,"y":-1.3},{"g":"b","x":3.9,"y":-1.3},{"g":"b","x":5.1,"y":-1.3},{"g":"b","x":2.2,"y":-2.5},{"g":"b","x":3.4,"y":-2.5},{"g":"b","x":4.4,"y":-2.5}],
"s7":[{"g":"a","x":3.5,"y":6.8},{"g":"a","x":4.5,"y":6.8},{"g":"a","x":5.05,"y":7},{"g":"a","x":4,"y":6.2},{"g":"a","x":5,"y":6.2},{"g":"a","x":3,"y":5.6},{"g":"a","x":4,"y":5.6},{"g":"a","x":5,"y":5.6},{"g":"a","x":5.9,"y":6.1},{"g":"a","x":3.5,"y":5},{"g":"a","x":4.5,"y":5},{"g":"a","x":5.5,"y":5},{"g":"a","x":3.5,"y":4.4},{"g":"a","x":4.5,"y":4.4},{"g":"a","x":5.5,"y":4.4},{"g":"a","x":6.5,"y":5.2},{"g":"a","x":6,"y":4},{"g":"a","x":5.5,"y":3.8},{"g":"a","x":5,"y":3.2},{"g":"a","x":6,"y":3.2},{"g":"a","x":6.9,"y":3.8},{"g":"a","x":-4,"y":0.75},{"g":"a","x":-3.5,"y":-0.4},{"g":"a","x":-3.1,"y":-0.2},{"g":"a","x":-2.5,"y":-0.4},{"g":"a","x":-3,"y":-0.9},{"g":"a","x":-3.55,"y":-1.35},{"g":"a","x":-3,"y":-1.6},{"g":"a","x":-2,"y":-1.6},{"g":"a","x":-1,"y":-1.6},{"g":"a","x":-0.25,"y":-1.35},{"g":"a","x":-2.7,"y":-2},{"g":"a","x":-2,"y":-2.3},{"g":"a","x":-1.5,"y":-2.3},{"g":"a","x":-1,"y":-2.5},{"g":"a","x":0,"y":-2.3},{"g":"a","x":0.5,"y":-2.5},{"g":"a","x":-2.25,"y":-3},{"g":"a","x":-1.25,"y":-3},{"g":"a","x":-0.25,"y":-3},{"g":"a","x":0.6,"y":-3},{"g":"a","x":1.3,"y":-3.2},{"g":"b","x":-0.1,"y":7.6},{"g":"b","x":0.7,"y":7.2},{"g":"b","x":-2,"y":6.6},{"g":"b","x":-1,"y":6.6},{"g":"b","x":0,"y":6.6},{"g":"b","x":1,"y":6.6},{"g":"b","x":1.3,"y":7},{"g":"b","x":-3.3,"y":5.9},{"g":"b","x":-2.5,"y":5.4},{"g":"b","x":-1.5,"y":5.4},{"g":"b","x":-0.5,"y":5.4},{"g":"b","x":0.5,"y":5.4},{"g":"b","x":1.5,"y":5.4},{"g":"b","x":2.5,"y":5.4},{"g":"b","x":2.9,"y":5.9},{"g":"b","x":-3.4,"y":4.9},{"g":"b","x":-3,"y":4.2},{"g":"b","x":-2,"y":4.2},{"g":"b","x":-1,"y":4.2},{"g":"b","x":0,"y":4.2},{"g":"b","x":1,"y":4.2},{"g":"b","x":2,"y":4.2},{"g":"b","x":3,"y":4.2},{"g":"b","x":3.8,"y":4.5},{"g":"b","x":-3.85,"y":2.85},{"g":"b","x":-3.5,"y":3},{"g":"b","x":-2.5,"y":3},{"g":"b","x":-1.5,"y":3},{"g":"b","x":-0.5,"y":3},{"g":"b","x":0.5,"y":3},{"g":"b","x":1.5,"y":3},{"g":"b","x":2.5,"y":3},{"g":"b","x":3.5,"y":3},{"g":"b","x":4.5,"y":3},{"g":"b","x":5.05,"y":3.3},{"g":"b","x":-3.3,"y":1.9},{"g":"b","x":-3,"y":1.8},{"g":"b","x":-2,"y":1.8},{"g":"b","x":-1,"y":1.8},{"g":"b","x":0,"y":1.8},{"g":"b","x":1,"y":1.8},{"g":"b","x":2,"y":1.8},{"g":"b","x":3,"y":1.8},{"g":"b","x":4,"y":1.8},{"g":"b","x":5,"y":1.8},{"g":"b","x":6,"y":1.8},{"g":"b","x":6.2,"y":1.9},{"g":"b","x":-2.25,"y":0.75},{"g":"b","x":-1.5,"y":0.6},{"g":"b","x":-0.5,"y":0.6},{"g":"b","x":0.5,"y":0.6},{"g":"b","x":1.5,"y":0.6},{"g":"b","x":2.5,"y":0.6},{"g":"b","x":3.5,"y":0.6},{"g":"b","x":4.5,"y":0.6},{"g":"b","x":5.5,"y":0.6},{"g":"b","x":6.5,"y":0.6},{"g":"b","x":6.9,"y":0.3},{"g":"b","x":-0.7,"y":-0.2},{"g":"b","x":0,"y":-0.6},{"g":"b","x":1,"y":-0.6},{"g":"b","x":2,"y":-0.6},{"g":"b","x":3,"y":-0.6},{"g":"b","x":4,"y":-0.6},{"g":"b","x":5,"y":-0.6},{"g":"b","x":6,"y":-0.6},{"g":"b","x":6.6,"y":-0.6},{"g":"b","x":0.75,"y":-1.8},{"g":"b","x":1.5,"y":-1.8},{"g":"b","x":2.5,"y":-1.8},{"g":"b","x":3.5,"y":-1.8},{"g":"b","x":4.5,"y":-1.8},{"g":"b","x":5.5,"y":-1.8},{"g":"b","x":6.2,"y":-1.8},{"g":"b","x":0.75,"y":-2.5},{"g":"b","x":1.6,"y":-2.9},{"g":"b","x":2.75,"y":-3.2},{"g":"b","x":3.7,"y":-3},{"g":"b","x":4.05,"y":-3.45},{"g":"b","x":5,"y":-3},{"g":"b","x":5.35,"y":-2.75},{"g":"b","x":-0.4,"y":7},{"g":"b","x":-2.4,"y":6},{"g":"b","x":-1.2,"y":6},{"g":"b","x":0,"y":6},{"g":"b","x":1.2,"y":6},{"g":"b","x":-2.6,"y":4.8},{"g":"b","x":-1.4,"y":4.8},{"g":"b","x":-0.2,"y":4.8},{"g":"b","x":1,"y":4.8},{"g":"b","x":2.2,"y":4.8},{"g":"b","x":3,"y":4.8},{"g":"b","x":-3,"y":3.6},{"g":"b","x":-1.8,"y":3.6},{"g":"b","x":-0.6,"y":3.6},{"g":"b","x":0.6,"y":3.6},{"g":"b","x":1.8,"y":3.6},{"g":"b","x":3,"y":3.6},{"g":"b","x":-2.9,"y":2.4},{"g":"b","x":-1.7,"y":2.4},{"g":"b","x":-0.5,"y":2.4},{"g":"b","x":0.7,"y":2.4},{"g":"b","x":1.9,"y":2.4},{"g":"b","x":3.1,"y":2.4},{"g":"b","x":4.3,"y":2.4},{"g":"b","x":-2.3,"y":1.2},{"g":"b","x":-1.1,"y":1.2},{"g":"b","x":0.1,"y":1.2},{"g":"b","x":1.3,"y":1.2},{"g":"b","x":2.5,"y":1.2},{"g":"b","x":3.7,"y":1.2},{"g":"b","x":4.9,"y":1.2},{"g":"b","x":6,"y":1.2},{"g":"b","x":0,"y":0},{"g":"b","x":1.2,"y":0},{"g":"b","x":2.4,"y":0},{"g":"b","x":3.6,"y":0},{"g":"b","x":4.8,"y":0},{"g":"b","x":6,"y":0},{"g":"b","x":1,"y":-1.2},{"g":"b","x":2.2,"y":-1.2},{"g":"b","x":3.4,"y":-1.2},{"g":"b","x":4.6,"y":-1.2},{"g":"b","x":5.8,"y":-1.2},{"g":"b","x":1.6,"y":-2.4},{"g":"b","x":2.8,"y":-2.4},{"g":"b","x":4,"y":-2.4},{"g":"b","x":5,"y":-2.4}],
"s8":[{"g":"a","x":3.5,"y":7.4},{"g":"a","x":3.85,"y":7.4},{"g":"a","x":4.5,"y":7.4},{"g":"a","x":5.15,"y":7.1},{"g":"a","x":4.5,"y":6.8},{"g":"a","x":3.7,"y":6.4},{"g":"a","x":4,"y":6.2},{"g":"a","x":5,"y":6.2},{"g":"a","x":6,"y":6.2},{"g":"a","x":6.4,"y":6.4},{"g":"a","x":5.5,"y":5.6},{"g":"a","x":6.5,"y":5.6},{"g":"a","x":4.55,"y":5.3},{"g":"a","x":4.5,"y":5},{"g":"a","x":5.5,"y":5},{"g":"a","x":6.5,"y":5},{"g":"a","x":7,"y":5},{"g":"a","x":7.3,"y":5.7},{"g":"a","x":5,"y":4.4},{"g":"a","x":6,"y":4.4},{"g":"a","x":7,"y":4.4},{"g":"a","x":5,"y":3.8},{"g":"a","x":6,"y":3.8},{"g":"a","x":7,"y":3.8},{"g":"a","x":7.6,"y":3.6},{"g":"a","x":-3.6,"y":0.4},{"g":"a","x":-3,"y":0.2},{"g":"a","x":-3,"y":-0.4},{"g":"a","x":-2.3,"y":-0.1},{"g":"a","x":-3.5,"y":-1},{"g":"a","x":-3,"y":-1},{"g":"a","x":-2,"y":-1},{"g":"a","x":-1,"y":-1},{"g":"a","x":-0.3,"y":-1},{"g":"a","x":-2,"y":-1.6},{"g":"a","x":-1,"y":-1.6},{"g":"a","x":-2.75,"y":-2.2},{"g":"a","x":-1.5,"y":-2.2},{"g":"a","x":-0.5,"y":-2.2},{"g":"a","x":0,"y":-2.2},{"g":"a","x":0.5,"y":-2.2},{"g":"a","x":0.85,"y":-1.7},{"g":"a","x":-2.2,"y":-2.8},{"g":"a","x":-1,"y":-2.8},{"g":"a","x":0,"y":-2.9},{"g":"a","x":-0.5,"y":-3.2},{"g":"a","x":-1.3,"y":-3.6},{"g":"a","x":-0.2,"y":-3.8},{"g":"a","x":0.7,"y":-2.65},{"g":"a","x":1.55,"y":-3.35},{"g":"b","x":-2,"y":7.1},{"g":"b","x":-1,"y":7.5},{"g":"b","x":0.25,"y":7.4},{"g":"b","x":1.2,"y":7.2},{"g":"b","x":2,"y":7.2},{"g":"b","x":2.85,"y":7.4},{"g":"b","x":-3.5,"y":6.2},{"g":"b","x":-2.5,"y":6.2},{"g":"b","x":-1.5,"y":6.2},{"g":"b","x":-0.5,"y":6.2},{"g":"b","x":0.5,"y":6.2},{"g":"b","x":1.5,"y":6.2},{"g":"b","x":2.5,"y":6.2},{"g":"b","x":2.9,"y":6.2},{"g":"b","x":-3.75,"y":4.8},{"g":"b","x":-3,"y":5},{"g":"b","x":-2,"y":5},{"g":"b","x":-1,"y":5},{"g":"b","x":0,"y":5},{"g":"b","x":1,"y":5},{"g":"b","x":2,"y":5},{"g":"b","x":3,"y":5},{"g":"b","x":3.85,"y":5},{"g":"b","x":-3.9,"y":3.4},{"g":"b","x":-3.5,"y":3.8},{"g":"b","x":-2.5,"y":3.8},{"g":"b","x":-1.5,"y":3.8},{"g":"b","x":-0.5,"y":3.8},{"g":"b","x":0.5,"y":3.8},{"g":"b","x":1.5,"y":3.8},{"g":"b","x":2.5,"y":3.8},{"g":"b","x":3.5,"y":3.8},{"g":"b","x":4.15,"y":4.1},{"g":"b","x":-3.4,"y":2.6},{"g":"b","x":-3,"y":2.6},{"g":"b","x":-2,"y":2.6},{"g":"b","x":-1,"y":2.6},{"g":"b","x":0,"y":2.6},{"g":"b","x":1,"y":2.6},{"g":"b","x":2,"y":2.6},{"g":"b","x":3,"y":2.6},{"g":"b","x":4,"y":2.6},{"g":"b","x":5,"y":2.6},{"g":"b","x":6,"y":2.6},{"g":"b","x":7.15,"y":2.2},{"g":"b","x":-2.9,"y":1.5},{"g":"b","x":-2.5,"y":1.4},{"g":"b","x":-1.5,"y":1.4},{"g":"b","x":-0.5,"y":1.4},{"g":"b","x":0.5,"y":1.4},{"g":"b","x":1.5,"y":1.4},{"g":"b","x":2.5,"y":1.4},{"g":"b","x":3.5,"y":1.4},{"g":"b","x":4.5,"y":1.4},{"g":"b","x":5.5,"y":1.4},{"g":"b","x":6.5,"y":1.4},{"g":"b","x":7,"y":1.4},{"g":"b","x":-1.2,"y":0.4},{"g":"b","x":-1,"y":0.2},{"g":"b","x":0,"y":0.2},{"g":"b","x":1,"y":0.2},{"g":"b","x":2,"y":0.2},{"g":"b","x":3,"y":0.2},{"g":"b","x":4,"y":0.2},{"g":"b","x":5,"y":0.2},{"g":"b","x":6,"y":0.2},{"g":"b","x":7,"y":0.2},{"g":"b","x":7.45,"y":-0.3},{"g":"b","x":0.55,"y":-0.8},{"g":"b","x":1.5,"y":-1},{"g":"b","x":2.5,"y":-1},{"g":"b","x":3.5,"y":-1},{"g":"b","x":4.5,"y":-1},{"g":"b","x":5.5,"y":-1},{"g":"b","x":6.5,"y":-1},{"g":"b","x":7,"y":-1},{"g":"b","x":1.4,"y":-1.7},{"g":"b","x":1.7,"y":-2.65},{"g":"b","x":2,"y":-2.2},{"g":"b","x":3,"y":-2.2},{"g":"b","x":4,"y":-2.2},{"g":"b","x":5,"y":-2.2},{"g":"b","x":6,"y":-2.2},{"g":"b","x":6.85,"y":-1.7},{"g":"b","x":3,"y":-3.6},{"g":"b","x":4.55,"y":-3.1},{"g":"b","x":6.15,"y":-3.35},{"g":"b","x":-2.2,"y":6.8},{"g":"b","x":-1,"y":6.8},{"g":"b","x":0.2,"y":6.8},{"g":"b","x":1.4,"y":6.8},{"g":"b","x":2.4,"y":6.8},{"g":"b","x":-3,"y":5.6},{"g":"b","x":-1.8,"y":5.6},{"g":"b","x":-0.6,"y":5.6},{"g":"b","x":0.6,"y":5.6},{"g":"b","x":1.8,"y":5.6},{"g":"b","x":2.8,"y":5.6},{"g":"b","x":-3,"y":4.4},{"g":"b","x":-1.8,"y":4.4},{"g":"b","x":-0.6,"y":4.4},{"g":"b","x":0.6,"y":4.4},{"g":"b","x":1.8,"y":4.4},{"g":"b","x":3,"y":4.4},{"g":"b","x":-2.9,"y":3.2},{"g":"b","x":-1.7,"y":3.2},{"g":"b","x":-0.5,"y":3.2},{"g":"b","x":0.7,"y":3.2},{"g":"b","x":1.9,"y":3.2},{"g":"b","x":3.1,"y":3.2},{"g":"b","x":4.2,"y":3.2},{"g":"b","x":-2.6,"y":2},{"g":"b","x":-1.4,"y":2},{"g":"b","x":-0.2,"y":2},{"g":"b","x":1,"y":2},{"g":"b","x":2.2,"y":2},{"g":"b","x":3.4,"y":2},{"g":"b","x":4.6,"y":2},{"g":"b","x":5.8,"y":2},{"g":"b","x":6.8,"y":2},{"g":"b","x":-1.4,"y":0.8},{"g":"b","x":-0.2,"y":0.8},{"g":"b","x":1,"y":0.8},{"g":"b","x":2.2,"y":0.8},{"g":"b","x":3.4,"y":0.8},{"g":"b","x":4.6,"y":0.8},{"g":"b","x":5.8,"y":0.8},{"g":"b","x":6.9,"y":0.8},{"g":"b","x":0.6,"y":-0.4},{"g":"b","x":1.8,"y":-0.4},{"g":"b","x":3,"y":-0.4},{"g":"b","x":4.2,"y":-0.4},{"g":"b","x":5.4,"y":-0.4},{"g":"b","x":6.6,"y":-0.4},{"g":"b","x":1.9,"y":-1.6},{"g":"b","x":3.1,"y":-1.6},{"g":"b","x":4.3,"y":-1.6},{"g":"b","x":5.5,"y":-1.6},{"g":"b","x":6.4,"y":-1.6},{"g":"b","x":3.2,"y":-2.8},{"g":"b","x":4.4,"y":-2.8},{"g":"b","x":5.6,"y":-2.8}],
"t0":[{"g":"a","x":-4.5,"p":0},{"g":"a","x":-3,"p":0.01},{"g":"a","x":-2.5,"p":0.04},{"g":"a","x":-2,"p":0.14},{"g":"a","x":-1.5,"p":0.33},{"g":"a","x":-1,"p":0.6},{"g":"a","x":-0.5,"p":0.88},{"g":"a","x":0,"p":0.98},{"g":"a","x":0.25,"p":1},{"g":"a","x":0.5,"p":0.89},{"g":"a","x":1,"p":0.6},{"g":"a","x":1.5,"p":0.31},{"g":"a","x":2,"p":0.13},{"g":"a","x":2.5,"p":0.04},{"g":"a","x":3,"p":0.01},{"g":"a","x":4.5,"p":0},{"g":"b","x":-4.5,"p":0},{"g":"b","x":-3,"p":0.01},{"g":"b","x":-2.5,"p":0.04},{"g":"b","x":-2,"p":0.14},{"g":"b","x":-1.5,"p":0.33},{"g":"b","x":-1,"p":0.61},{"g":"b","x":-0.5,"p":0.88},{"g":"b","x":0,"p":0.97},{"g":"b","x":0.25,"p":0.98},{"g":"b","x":0.5,"p":0.88},{"g":"b","x":1,"p":0.6},{"g":"b","x":1.5,"p":0.31},{"g":"b","x":2,"p":0.13},{"g":"b","x":2.5,"p":0.04},{"g":"b","x":3,"p":0.01},{"g":"b","x":4.5,"p":0}],
"t1":[{"g":"a","x":-4.5,"p":0},{"g":"a","x":-3,"p":0.01},{"g":"a","x":-2.5,"p":0.04},{"g":"a","x":-2,"p":0.12},{"g":"a","x":-1.5,"p":0.28},{"g":"a","x":-1,"p":0.55},{"g":"a","x":-0.5,"p":0.84},{"g":"a","x":0,"p":1},{"g":"a","x":0.5,"p":0.94},{"g":"a","x":1,"p":0.7},{"g":"a","x":1.5,"p":0.41},{"g":"a","x":2,"p":0.19},{"g":"a","x":2.5,"p":0.07},{"g":"a","x":3,"p":0.02},{"g":"a","x":4.8,"p":0},{"g":"b","x":-4.5,"p":0},{"g":"b","x":-3,"p":0.01},{"g":"b","x":-2.5,"p":0.04},{"g":"b","x":-2,"p":0.12},{"g":"b","x":-1.5,"p":0.29},{"g":"b","x":-1,"p":0.56},{"g":"b","x":-0.5,"p":0.85},{"g":"b","x":0,"p":0.99},{"g":"b","x":0.5,"p":0.93},{"g":"b","x":1,"p":0.69},{"g":"b","x":1.5,"p":0.4},{"g":"b","x":2,"p":0.19},{"g":"b","x":2.5,"p":0.07},{"g":"b","x":3,"p":0.02},{"g":"b","x":4.8,"p":0}],
"t2":[{"g":"a","x":-4.5,"p":0},{"g":"a","x":-2.5,"p":0.04},{"g":"a","x":-2,"p":0.11},{"g":"a","x":-1.5,"p":0.28},{"g":"a","x":-1,"p":0.54},{"g":"a","x":-0.5,"p":0.81},{"g":"a","x":0,"p":0.99},{"g":"a","x":0.25,"p":1},{"g":"a","x":0.5,"p":0.97},{"g":"a","x":1,"p":0.78},{"g":"a","x":1.5,"p":0.51},{"g":"a","x":2,"p":0.28},{"g":"a","x":2.5,"p":0.12},{"g":"a","x":3,"p":0.05},{"g":"a","x":3.5,"p":0.01},{"g":"a","x":5.5,"p":0},{"g":"b","x":-4.5,"p":0},{"g":"b","x":-2.5,"p":0.04},{"g":"b","x":-2,"p":0.12},{"g":"b","x":-1.5,"p":0.29},{"g":"b","x":-1,"p":0.55},{"g":"b","x":-0.5,"p":0.81},{"g":"b","x":0,"p":0.97},{"g":"b","x":0.25,"p":0.98},{"g":"b","x":0.5,"p":0.95},{"g":"b","x":1,"p":0.77},{"g":"b","x":1.5,"p":0.51},{"g":"b","x":2,"p":0.28},{"g":"b","x":2.5,"p":0.12},{"g":"b","x":3,"p":0.05},{"g":"b","x":3.5,"p":0.01},{"g":"b","x":5.5,"p":0}],
"t3":[{"g":"a","x":-4.5,"p":0},{"g":"a","x":-2.5,"p":0.04},{"g":"a","x":-2,"p":0.12},{"g":"a","x":-1.5,"p":0.29},{"g":"a","x":-1,"p":0.56},{"g":"a","x":-0.5,"p":0.83},{"g":"a","x":0,"p":0.99},{"g":"a","x":0.25,"p":1},{"g":"a","x":0.5,"p":0.97},{"g":"a","x":1,"p":0.81},{"g":"a","x":1.5,"p":0.58},{"g":"a","x":2,"p":0.38},{"g":"a","x":2.5,"p":0.22},{"g":"a","x":3,"p":0.1},{"g":"a","x":3.5,"p":0.04},{"g":"a","x":4,"p":0.01},{"g":"a","x":5.5,"p":0},{"g":"b","x":-4.5,"p":0},{"g":"b","x":-2.5,"p":0.04},{"g":"b","x":-2,"p":0.12},{"g":"b","x":-1.5,"p":0.3},{"g":"b","x":-1,"p":0.57},{"g":"b","x":-0.5,"p":0.84},{"g":"b","x":0,"p":0.98},{"g":"b","x":0.25,"p":0.98},{"g":"b","x":0.5,"p":0.95},{"g":"b","x":1,"p":0.8},{"g":"b","x":1.5,"p":0.58},{"g":"b","x":2,"p":0.38},{"g":"b","x":2.5,"p":0.22},{"g":"b","x":3,"p":0.1},{"g":"b","x":3.5,"p":0.04},{"g":"b","x":4,"p":0.01},{"g":"b","x":5.5,"p":0}],
"t4":[{"g":"a","x":-4.5,"p":0},{"g":"a","x":-2.5,"p":0.04},{"g":"a","x":-2,"p":0.13},{"g":"a","x":-1.5,"p":0.3},{"g":"a","x":-1,"p":0.58},{"g":"a","x":-0.5,"p":0.85},{"g":"a","x":0,"p":1},{"g":"a","x":0.5,"p":0.94},{"g":"a","x":1,"p":0.77},{"g":"a","x":1.5,"p":0.58},{"g":"a","x":2,"p":0.44},{"g":"a","x":2.5,"p":0.32},{"g":"a","x":3,"p":0.2},{"g":"a","x":3.5,"p":0.1},{"g":"a","x":4,"p":0.04},{"g":"a","x":4.5,"p":0.01},{"g":"a","x":6.5,"p":0},{"g":"b","x":-4.5,"p":0},{"g":"b","x":-2.5,"p":0.04},{"g":"b","x":-2,"p":0.13},{"g":"b","x":-1.5,"p":0.31},{"g":"b","x":-1,"p":0.6},{"g":"b","x":-0.5,"p":0.86},{"g":"b","x":0,"p":0.99},{"g":"b","x":0.5,"p":0.92},{"g":"b","x":1,"p":0.76},{"g":"b","x":1.5,"p":0.58},{"g":"b","x":2,"p":0.44},{"g":"b","x":2.5,"p":0.32},{"g":"b","x":3,"p":0.2},{"g":"b","x":3.5,"p":0.1},{"g":"b","x":4,"p":0.04},{"g":"b","x":4.5,"p":0.01},{"g":"b","x":6.5,"p":0}],
"t5":[{"g":"a","x":-4.5,"p":0},{"g":"a","x":-2.5,"p":0.04},{"g":"a","x":-2,"p":0.13},{"g":"a","x":-1.5,"p":0.32},{"g":"a","x":-1,"p":0.6},{"g":"a","x":-0.5,"p":0.87},{"g":"a","x":0,"p":1},{"g":"a","x":0.5,"p":0.91},{"g":"a","x":1,"p":0.71},{"g":"a","x":1.5,"p":0.52},{"g":"a","x":2,"p":0.42},{"g":"a","x":2.5,"p":0.37},{"g":"a","x":3,"p":0.3},{"g":"a","x":3.5,"p":0.2},{"g":"a","x":4,"p":0.11},{"g":"a","x":4.5,"p":0.04},{"g":"a","x":5,"p":0.01},{"g":"a","x":7,"p":0},{"g":"b","x":-4.5,"p":0},{"g":"b","x":-2.5,"p":0.04},{"g":"b","x":-2,"p":0.13},{"g":"b","x":-1.5,"p":0.32},{"g":"b","x":-1,"p":0.61},{"g":"b","x":-0.5,"p":0.88},{"g":"b","x":0,"p":0.99},{"g":"b","x":0.5,"p":0.9},{"g":"b","x":1,"p":0.7},{"g":"b","x":1.5,"p":0.52},{"g":"b","x":2,"p":0.42},{"g":"b","x":2.5,"p":0.37},{"g":"b","x":3,"p":0.3},{"g":"b","x":3.5,"p":0.2},{"g":"b","x":4,"p":0.11},{"g":"b","x":4.5,"p":0.04},{"g":"b","x":5,"p":0.01},{"g":"b","x":7,"p":0}],
"t6":[{"g":"a","x":-4.5,"p":0},{"g":"a","x":-2.5,"p":0.04},{"g":"a","x":-2,"p":0.13},{"g":"a","x":-1.5,"p":0.32},{"g":"a","x":-1,"p":0.61},{"g":"a","x":-0.5,"p":0.88},{"g":"a","x":0,"p":1},{"g":"a","x":0.5,"p":0.89},{"g":"a","x":1,"p":0.65},{"g":"a","x":1.5,"p":0.42},{"g":"a","x":2,"p":0.34},{"g":"a","x":2.5,"p":0.34},{"g":"a","x":3,"p":0.34},{"g":"a","x":3.5,"p":0.29},{"g":"a","x":4,"p":0.2},{"g":"a","x":4.5,"p":0.11},{"g":"a","x":5,"p":0.05},{"g":"a","x":5.5,"p":0.01},{"g":"a","x":7.5,"p":0},{"g":"b","x":-4.5,"p":0},{"g":"b","x":-2.5,"p":0.04},{"g":"b","x":-2,"p":0.13},{"g":"b","x":-1.5,"p":0.33},{"g":"b","x":-1,"p":0.62},{"g":"b","x":-0.5,"p":0.89},{"g":"b","x":0,"p":0.99},{"g":"b","x":0.5,"p":0.88},{"g":"b","x":1,"p":0.64},{"g":"b","x":1.5,"p":0.42},{"g":"b","x":2,"p":0.34},{"g":"b","x":2.5,"p":0.35},{"g":"b","x":3,"p":0.35},{"g":"b","x":3.5,"p":0.29},{"g":"b","x":4,"p":0.2},{"g":"b","x":4.5,"p":0.11},{"g":"b","x":5,"p":0.05},{"g":"b","x":5.5,"p":0.01},{"g":"b","x":7.5,"p":0}],
"t7":[{"g":"a","x":-4.5,"p":0},{"g":"a","x":-2.5,"p":0.04},{"g":"a","x":-2,"p":0.13},{"g":"a","x":-1.5,"p":0.32},{"g":"a","x":-1,"p":0.61},{"g":"a","x":-0.5,"p":0.88},{"g":"a","x":0,"p":1},{"g":"a","x":0.5,"p":0.88},{"g":"a","x":1,"p":0.63},{"g":"a","x":1.5,"p":0.37},{"g":"a","x":2,"p":0.24},{"g":"a","x":2.5,"p":0.25},{"g":"a","x":3,"p":0.3},{"g":"a","x":3.5,"p":0.33},{"g":"a","x":4,"p":0.29},{"g":"a","x":4.5,"p":0.2},{"g":"a","x":5,"p":0.11},{"g":"a","x":5.5,"p":0.05},{"g":"a","x":6,"p":0.01},{"g":"a","x":8,"p":0},{"g":"b","x":-4.5,"p":0},{"g":"b","x":-2.5,"p":0.04},{"g":"b","x":-2,"p":0.13},{"g":"b","x":-1.5,"p":0.33},{"g":"b","x":-1,"p":0.62},{"g":"b","x":-0.5,"p":0.89},{"g":"b","x":0,"p":0.99},{"g":"b","x":0.5,"p":0.87},{"g":"b","x":1,"p":0.62},{"g":"b","x":1.5,"p":0.37},{"g":"b","x":2,"p":0.24},{"g":"b","x":2.5,"p":0.25},{"g":"b","x":3,"p":0.3},{"g":"b","x":3.5,"p":0.34},{"g":"b","x":4,"p":0.29},{"g":"b","x":4.5,"p":0.2},{"g":"b","x":5,"p":0.11},{"g":"b","x":5.5,"p":0.05},{"g":"b","x":6,"p":0.01},{"g":"b","x":8,"p":0}],
"t8":[{"g":"a","x":-4.5,"p":0},{"g":"a","x":-2.5,"p":0.04},{"g":"a","x":-2,"p":0.13},{"g":"a","x":-1.5,"p":0.32},{"g":"a","x":-1,"p":0.61},{"g":"a","x":-0.5,"p":0.88},{"g":"a","x":0,"p":1},{"g":"a","x":0.5,"p":0.88},{"g":"a","x":1,"p":0.61},{"g":"a","x":1.5,"p":0.33},{"g":"a","x":2,"p":0.18},{"g":"a","x":2.5,"p":0.15},{"g":"a","x":3,"p":0.21},{"g":"a","x":3.5,"p":0.29},{"g":"a","x":4,"p":0.33},{"g":"a","x":4.5,"p":0.29},{"g":"a","x":5,"p":0.2},{"g":"a","x":5.5,"p":0.11},{"g":"a","x":6,"p":0.05},{"g":"a","x":6.5,"p":0.01},{"g":"a","x":8,"p":0},{"g":"b","x":-4.5,"p":0},{"g":"b","x":-2.5,"p":0.04},{"g":"b","x":-2,"p":0.13},{"g":"b","x":-1.5,"p":0.33},{"g":"b","x":-1,"p":0.62},{"g":"b","x":-0.5,"p":0.89},{"g":"b","x":0,"p":0.99},{"g":"b","x":0.5,"p":0.87},{"g":"b","x":1,"p":0.6},{"g":"b","x":1.5,"p":0.33},{"g":"b","x":2,"p":0.18},{"g":"b","x":2.5,"p":0.15},{"g":"b","x":3,"p":0.21},{"g":"b","x":3.5,"p":0.29},{"g":"b","x":4,"p":0.34},{"g":"b","x":4.5,"p":0.29},{"g":"b","x":5,"p":0.2},{"g":"b","x":5.5,"p":0.11},{"g":"b","x":6,"p":0.05},{"g":"b","x":6.5,"p":0.01},{"g":"b","x":8,"p":0}],
"r0":[{"g":"a","y":-4,"p":0},{"g":"a","y":-3,"p":0.01},{"g":"a","y":-2.5,"p":0.04},{"g":"a","y":-2,"p":0.13},{"g":"a","y":-1.5,"p":0.32},{"g":"a","y":-1,"p":0.6},{"g":"a","y":-0.5,"p":0.88},{"g":"a","y":0,"p":1},{"g":"a","y":0.5,"p":0.88},{"g":"a","y":1,"p":0.6},{"g":"a","y":1.5,"p":0.32},{"g":"a","y":2,"p":0.13},{"g":"a","y":2.5,"p":0.04},{"g":"a","y":3,"p":0.01},{"g":"a","y":4,"p":0},{"g":"b","y":-4,"p":0},{"g":"b","y":-3,"p":0.01},{"g":"b","y":-2.5,"p":0.04},{"g":"b","y":-2,"p":0.13},{"g":"b","y":-1.5,"p":0.32},{"g":"b","y":-1,"p":0.6},{"g":"b","y":-0.5,"p":0.88},{"g":"b","y":0,"p":1},{"g":"b","y":0.5,"p":0.88},{"g":"b","y":1,"p":0.6},{"g":"b","y":1.5,"p":0.32},{"g":"b","y":2,"p":0.13},{"g":"b","y":2.5,"p":0.04},{"g":"b","y":3,"p":0.01},{"g":"b","y":4,"p":0}],
"r1":[{"g":"a","y":-4,"p":0},{"g":"a","y":-3,"p":0.01},{"g":"a","y":-2.5,"p":0.04},{"g":"a","y":-2,"p":0.12},{"g":"a","y":-1.5,"p":0.28},{"g":"a","y":-1,"p":0.55},{"g":"a","y":-0.5,"p":0.84},{"g":"a","y":0,"p":1},{"g":"a","y":0.5,"p":0.94},{"g":"a","y":1,"p":0.7},{"g":"a","y":1.5,"p":0.41},{"g":"a","y":2,"p":0.19},{"g":"a","y":2.5,"p":0.07},{"g":"a","y":3,"p":0.02},{"g":"a","y":4,"p":0},{"g":"b","y":-3.5,"p":0},{"g":"b","y":-2.5,"p":0.02},{"g":"b","y":-2,"p":0.07},{"g":"b","y":-1.5,"p":0.19},{"g":"b","y":-1,"p":0.41},{"g":"b","y":-0.5,"p":0.7},{"g":"b","y":0,"p":0.94},{"g":"b","y":0.5,"p":1},{"g":"b","y":1,"p":0.84},{"g":"b","y":1.5,"p":0.55},{"g":"b","y":2,"p":0.28},{"g":"b","y":2.5,"p":0.12},{"g":"b","y":3,"p":0.04},{"g":"b","y":3.5,"p":0.01},{"g":"b","y":4.5,"p":0}],
"r2":[{"g":"a","y":-3.5,"p":0},{"g":"a","y":-2.5,"p":0.04},{"g":"a","y":-2,"p":0.11},{"g":"a","y":-1.5,"p":0.28},{"g":"a","y":-1,"p":0.54},{"g":"a","y":-0.5,"p":0.81},{"g":"a","y":0,"p":0.99},{"g":"a","y":0.25,"p":1},{"g":"a","y":0.5,"p":0.97},{"g":"a","y":1,"p":0.78},{"g":"a","y":1.5,"p":0.51},{"g":"a","y":2,"p":0.28},{"g":"a","y":2.5,"p":0.12},{"g":"a","y":3,"p":0.05},{"g":"a","y":3.5,"p":0.01},{"g":"a","y":4.5,"p":0},{"g":"b","y":-3.5,"p":0},{"g":"b","y":-2.5,"p":0.01},{"g":"b","y":-2,"p":0.05},{"g":"b","y":-1.5,"p":0.12},{"g":"b","y":-1,"p":0.28},{"g":"b","y":-0.5,"p":0.51},{"g":"b","y":0,"p":0.78},{"g":"b","y":0.5,"p":0.97},{"g":"b","y":0.75,"p":1},{"g":"b","y":1,"p":0.99},{"g":"b","y":1.5,"p":0.81},{"g":"b","y":2,"p":0.54},{"g":"b","y":2.5,"p":0.28},{"g":"b","y":3,"p":0.11},{"g":"b","y":3.5,"p":0.04},{"g":"b","y":4.5,"p":0}],
"r3":[{"g":"a","y":-3.5,"p":0},{"g":"a","y":-2.5,"p":0.04},{"g":"a","y":-2,"p":0.12},{"g":"a","y":-1.5,"p":0.29},{"g":"a","y":-1,"p":0.56},{"g":"a","y":-0.5,"p":0.83},{"g":"a","y":0,"p":0.99},{"g":"a","y":0.25,"p":1},{"g":"a","y":0.5,"p":0.97},{"g":"a","y":1,"p":0.81},{"g":"a","y":1.5,"p":0.58},{"g":"a","y":2,"p":0.38},{"g":"a","y":2.5,"p":0.22},{"g":"a","y":3,"p":0.1},{"g":"a","y":3.5,"p":0.04},{"g":"a","y":4,"p":0.01},{"g":"a","y":5,"p":0},{"g":"b","y":-3.5,"p":0},{"g":"b","y":-2.5,"p":0.01},{"g":"b","y":-2,"p":0.04},{"g":"b","y":-1.5,"p":0.1},{"g":"b","y":-1,"p":0.22},{"g":"b","y":-0.5,"p":0.38},{"g":"b","y":0,"p":0.58},{"g":"b","y":0.5,"p":0.81},{"g":"b","y":1,"p":0.97},{"g":"b","y":1.25,"p":1},{"g":"b","y":1.5,"p":0.99},{"g":"b","y":2,"p":0.83},{"g":"b","y":2.5,"p":0.56},{"g":"b","y":3,"p":0.29},{"g":"b","y":3.5,"p":0.12},{"g":"b","y":4,"p":0.04},{"g":"b","y":5,"p":0}],
"r4":[{"g":"a","y":-3.5,"p":0},{"g":"a","y":-2.5,"p":0.04},{"g":"a","y":-2,"p":0.13},{"g":"a","y":-1.5,"p":0.3},{"g":"a","y":-1,"p":0.58},{"g":"a","y":-0.5,"p":0.85},{"g":"a","y":0,"p":1},{"g":"a","y":0.5,"p":0.94},{"g":"a","y":1,"p":0.77},{"g":"a","y":1.5,"p":0.58},{"g":"a","y":2,"p":0.44},{"g":"a","y":2.5,"p":0.32},{"g":"a","y":3,"p":0.2},{"g":"a","y":3.5,"p":0.1},{"g":"a","y":4,"p":0.04},{"g":"a","y":4.5,"p":0.01},{"g":"a","y":5.5,"p":0},{"g":"b","y":-3.5,"p":0},{"g":"b","y":-2.5,"p":0.01},{"g":"b","y":-2,"p":0.04},{"g":"b","y":-1.5,"p":0.1},{"g":"b","y":-1,"p":0.2},{"g":"b","y":-0.5,"p":0.32},{"g":"b","y":0,"p":0.44},{"g":"b","y":0.5,"p":0.58},{"g":"b","y":1,"p":0.77},{"g":"b","y":1.5,"p":0.94},{"g":"b","y":2,"p":1},{"g":"b","y":2.5,"p":0.85},{"g":"b","y":3,"p":0.58},{"g":"b","y":3.5,"p":0.3},{"g":"b","y":4,"p":0.13},{"g":"b","y":4.5,"p":0.04},{"g":"b","y":5.5,"p":0}],
"r5":[{"g":"a","y":-3.5,"p":0},{"g":"a","y":-2.5,"p":0.04},{"g":"a","y":-2,"p":0.13},{"g":"a","y":-1.5,"p":0.32},{"g":"a","y":-1,"p":0.6},{"g":"a","y":-0.5,"p":0.87},{"g":"a","y":0,"p":1},{"g":"a","y":0.5,"p":0.91},{"g":"a","y":1,"p":0.71},{"g":"a","y":1.5,"p":0.52},{"g":"a","y":2,"p":0.42},{"g":"a","y":2.5,"p":0.37},{"g":"a","y":3,"p":0.3},{"g":"a","y":3.5,"p":0.2},{"g":"a","y":4,"p":0.11},{"g":"a","y":4.5,"p":0.04},{"g":"a","y":5,"p":0.01},{"g":"a","y":6,"p":0},{"g":"b","y":-3.5,"p":0},{"g":"b","y":-2.5,"p":0.01},{"g":"b","y":-2,"p":0.04},{"g":"b","y":-1.5,"p":0.11},{"g":"b","y":-1,"p":0.2},{"g":"b","y":-0.5,"p":0.3},{"g":"b","y":0,"p":0.37},{"g":"b","y":0.5,"p":0.42},{"g":"b","y":1,"p":0.52},{"g":"b","y":1.5,"p":0.71},{"g":"b","y":2,"p":0.91},{"g":"b","y":2.5,"p":1},{"g":"b","y":3,"p":0.87},{"g":"b","y":3.5,"p":0.6},{"g":"b","y":4,"p":0.32},{"g":"b","y":4.5,"p":0.13},{"g":"b","y":5,"p":0.04},{"g":"b","y":6,"p":0}],
"r6":[{"g":"a","y":-3.5,"p":0},{"g":"a","y":-2.5,"p":0.04},{"g":"a","y":-2,"p":0.13},{"g":"a","y":-1.5,"p":0.32},{"g":"a","y":-1,"p":0.61},{"g":"a","y":-0.5,"p":0.88},{"g":"a","y":0,"p":1},{"g":"a","y":0.5,"p":0.89},{"g":"a","y":1,"p":0.65},{"g":"a","y":1.5,"p":0.42},{"g":"a","y":2,"p":0.34},{"g":"a","y":2.5,"p":0.34},{"g":"a","y":3,"p":0.34},{"g":"a","y":3.5,"p":0.29},{"g":"a","y":4,"p":0.2},{"g":"a","y":4.5,"p":0.11},{"g":"a","y":5,"p":0.05},{"g":"a","y":5.5,"p":0.01},{"g":"a","y":6.5,"p":0},{"g":"b","y":-3.5,"p":0},{"g":"b","y":-2.5,"p":0.01},{"g":"b","y":-2,"p":0.05},{"g":"b","y":-1.5,"p":0.11},{"g":"b","y":-1,"p":0.2},{"g":"b","y":-0.5,"p":0.29},{"g":"b","y":0,"p":0.34},{"g":"b","y":0.5,"p":0.34},{"g":"b","y":1,"p":0.34},{"g":"b","y":1.5,"p":0.42},{"g":"b","y":2,"p":0.65},{"g":"b","y":2.5,"p":0.89},{"g":"b","y":3,"p":1},{"g":"b","y":3.5,"p":0.88},{"g":"b","y":4,"p":0.61},{"g":"b","y":4.5,"p":0.32},{"g":"b","y":5,"p":0.13},{"g":"b","y":5.5,"p":0.04},{"g":"b","y":6.5,"p":0}],
"r7":[{"g":"a","y":-3.5,"p":0},{"g":"a","y":-2.5,"p":0.04},{"g":"a","y":-2,"p":0.13},{"g":"a","y":-1.5,"p":0.32},{"g":"a","y":-1,"p":0.61},{"g":"a","y":-0.5,"p":0.88},{"g":"a","y":0,"p":1},{"g":"a","y":0.5,"p":0.88},{"g":"a","y":1,"p":0.63},{"g":"a","y":1.5,"p":0.37},{"g":"a","y":2,"p":0.24},{"g":"a","y":2.5,"p":0.25},{"g":"a","y":3,"p":0.3},{"g":"a","y":3.5,"p":0.33},{"g":"a","y":4,"p":0.29},{"g":"a","y":4.5,"p":0.2},{"g":"a","y":5,"p":0.11},{"g":"a","y":5.5,"p":0.05},{"g":"a","y":6,"p":0.01},{"g":"a","y":7,"p":0},{"g":"b","y":-3.5,"p":0},{"g":"b","y":-2.5,"p":0.01},{"g":"b","y":-2,"p":0.05},{"g":"b","y":-1.5,"p":0.11},{"g":"b","y":-1,"p":0.2},{"g":"b","y":-0.5,"p":0.29},{"g":"b","y":0,"p":0.33},{"g":"b","y":0.5,"p":0.3},{"g":"b","y":1,"p":0.25},{"g":"b","y":1.5,"p":0.24},{"g":"b","y":2,"p":0.37},{"g":"b","y":2.5,"p":0.63},{"g":"b","y":3,"p":0.88},{"g":"b","y":3.5,"p":1},{"g":"b","y":4,"p":0.88},{"g":"b","y":4.5,"p":0.61},{"g":"b","y":5,"p":0.32},{"g":"b","y":5.5,"p":0.13},{"g":"b","y":6,"p":0.04},{"g":"b","y":7,"p":0}],
"r8":[{"g":"a","y":-3.5,"p":0},{"g":"a","y":-2.5,"p":0.04},{"g":"a","y":-2,"p":0.13},{"g":"a","y":-1.5,"p":0.32},{"g":"a","y":-1,"p":0.61},{"g":"a","y":-0.5,"p":0.88},{"g":"a","y":0,"p":1},{"g":"a","y":0.5,"p":0.88},{"g":"a","y":1,"p":0.61},{"g":"a","y":1.5,"p":0.33},{"g":"a","y":2,"p":0.18},{"g":"a","y":2.5,"p":0.15},{"g":"a","y":3,"p":0.21},{"g":"a","y":3.5,"p":0.29},{"g":"a","y":4,"p":0.33},{"g":"a","y":4.5,"p":0.29},{"g":"a","y":5,"p":0.2},{"g":"a","y":5.5,"p":0.11},{"g":"a","y":6,"p":0.05},{"g":"a","y":6.5,"p":0.01},{"g":"a","y":7.5,"p":0},{"g":"b","y":-3.5,"p":0},{"g":"b","y":-2.5,"p":0.01},{"g":"b","y":-2,"p":0.05},{"g":"b","y":-1.5,"p":0.11},{"g":"b","y":-1,"p":0.2},{"g":"b","y":-0.5,"p":0.29},{"g":"b","y":0,"p":0.33},{"g":"b","y":0.5,"p":0.29},{"g":"b","y":1,"p":0.21},{"g":"b","y":1.5,"p":0.15},{"g":"b","y":2,"p":0.18},{"g":"b","y":2.5,"p":0.33},{"g":"b","y":3,"p":0.61},{"g":"b","y":3.5,"p":0.88},{"g":"b","y":4,"p":1},{"g":"b","y":4.5,"p":0.88},{"g":"b","y":5,"p":0.61},{"g":"b","y":5.5,"p":0.32},{"g":"b","y":6,"p":0.13},{"g":"b","y":6.5,"p":0.04},{"g":"b","y":7.5,"p":0}],
"none":[]},
"concat":[
{"width":186,"height":40,"title":{"text":"d = 0","offset":2},"data":{"name":"t0"},"mark":{"type":"line","strokeWidth":0.7,"interpolate":"catmull-rom"},"encoding":{"x":{"field":"x","type":"quantitative","scale":{"domain":[-8,8]},"axis":{"labels":false,"ticks":false,"title":null}},"y":{"field":"p","type":"quantitative","scale":{"domain":[0,1.08]},"axis":null},"color":{"field":"g","type":"nominal"}}},
{"width":10,"height":10,"data":{"name":"none"},"mark":{"type":"point"},"encoding":{}},
{"width":186,"height":40,"title":{"text":"d = 0.5","offset":2},"data":{"name":"t1"},"mark":{"type":"line","strokeWidth":0.7,"interpolate":"catmull-rom"},"encoding":{"x":{"field":"x","type":"quantitative","scale":{"domain":[-8,8]},"axis":{"labels":false,"ticks":false,"title":null}},"y":{"field":"p","type":"quantitative","scale":{"domain":[0,1.08]},"axis":null},"color":{"field":"g","type":"nominal"}}},
{"width":10,"height":10,"data":{"name":"none"},"mark":{"type":"point"},"encoding":{}},
{"width":186,"height":40,"title":{"text":"d = 1","offset":2},"data":{"name":"t2"},"mark":{"type":"line","strokeWidth":0.7,"interpolate":"catmull-rom"},"encoding":{"x":{"field":"x","type":"quantitative","scale":{"domain":[-8,8]},"axis":{"labels":false,"ticks":false,"title":null}},"y":{"field":"p","type":"quantitative","scale":{"domain":[0,1.08]},"axis":null},"color":{"field":"g","type":"nominal"}}},
{"width":10,"height":10,"data":{"name":"none"},"mark":{"type":"point"},"encoding":{}},
{"width":186,"height":114,"view":{"stroke":"#262626"},"data":{"name":"s0"},"mark":{"type":"circle","size":185,"opacity":1},"encoding":{"x":{"field":"x","type":"quantitative","title":"Dimension 1","scale":{"domain":[-8,8]},"axis":{"values":[-5,0,5],"labelExpr":"''+datum.value"}},"y":{"field":"y","type":"quantitative","title":"Dimension 2","scale":{"domain":[-8,8]},"axis":{"values":[-5,0,5],"labelExpr":"''+datum.value"}},"color":{"field":"g","type":"nominal"}}},
{"width":120,"height":114,"data":{"name":"r0"},"mark":{"type":"line","strokeWidth":0.7,"interpolate":"catmull-rom"},"encoding":{"x":{"field":"p","type":"quantitative","scale":{"domain":[0,3.33]},"axis":null},"y":{"field":"y","type":"quantitative","scale":{"domain":[-8,8]},"axis":{"values":[-5,0,5],"labels":false,"title":null,"tickSize":2.5}},"order":{"field":"y","type":"quantitative"},"color":{"field":"g","type":"nominal"}}},
{"width":186,"height":114,"view":{"stroke":"#262626"},"data":{"name":"s1"},"mark":{"type":"circle","size":185,"opacity":1},"encoding":{"x":{"field":"x","type":"quantitative","title":"Dimension 1","scale":{"domain":[-8,8]},"axis":{"values":[-5,0,5],"labelExpr":"''+datum.value"}},"y":{"field":"y","type":"quantitative","title":"Dimension 2","scale":{"domain":[-8,8]},"axis":{"values":[-5,0,5],"labelExpr":"''+datum.value"}},"color":{"field":"g","type":"nominal"}}},
{"width":120,"height":114,"data":{"name":"r1"},"mark":{"type":"line","strokeWidth":0.7,"interpolate":"catmull-rom"},"encoding":{"x":{"field":"p","type":"quantitative","scale":{"domain":[0,3.33]},"axis":null},"y":{"field":"y","type":"quantitative","scale":{"domain":[-8,8]},"axis":{"values":[-5,0,5],"labels":false,"title":null,"tickSize":2.5}},"order":{"field":"y","type":"quantitative"},"color":{"field":"g","type":"nominal"}}},
{"width":186,"height":114,"view":{"stroke":"#262626"},"data":{"name":"s2"},"mark":{"type":"circle","size":185,"opacity":1},"encoding":{"x":{"field":"x","type":"quantitative","title":"Dimension 1","scale":{"domain":[-8,8]},"axis":{"values":[-5,0,5],"labelExpr":"''+datum.value"}},"y":{"field":"y","type":"quantitative","title":"Dimension 2","scale":{"domain":[-8,8]},"axis":{"values":[-5,0,5],"labelExpr":"''+datum.value"}},"color":{"field":"g","type":"nominal"}}},
{"width":120,"height":114,"data":{"name":"r2"},"mark":{"type":"line","strokeWidth":0.7,"interpolate":"catmull-rom"},"encoding":{"x":{"field":"p","type":"quantitative","scale":{"domain":[0,3.33]},"axis":null},"y":{"field":"y","type":"quantitative","scale":{"domain":[-8,8]},"axis":{"values":[-5,0,5],"labels":false,"title":null,"tickSize":2.5}},"order":{"field":"y","type":"quantitative"},"color":{"field":"g","type":"nominal"}}},
{"width":186,"height":130,"title":{"text":"d = 1.5","offset":-87},"data":{"name":"t3"},"mark":{"type":"line","strokeWidth":0.7,"interpolate":"catmull-rom"},"encoding":{"x":{"field":"x","type":"quantitative","scale":{"domain":[-8,8]},"axis":{"labels":false,"ticks":false,"title":null}},"y":{"field":"p","type":"quantitative","scale":{"domain":[0,3.51]},"axis":null},"color":{"field":"g","type":"nominal"}}},
{"width":10,"height":10,"data":{"name":"none"},"mark":{"type":"point"},"encoding":{}},
{"width":186,"height":130,"title":{"text":"d = 2","offset":-87},"data":{"name":"t4"},"mark":{"type":"line","strokeWidth":0.7,"interpolate":"catmull-rom"},"encoding":{"x":{"field":"x","type":"quantitative","scale":{"domain":[-8,8]},"axis":{"labels":false,"ticks":false,"title":null}},"y":{"field":"p","type":"quantitative","scale":{"domain":[0,3.51]},"axis":null},"color":{"field":"g","type":"nominal"}}},
{"width":10,"height":10,"data":{"name":"none"},"mark":{"type":"point"},"encoding":{}},
{"width":186,"height":130,"title":{"text":"d = 2.5","offset":-87},"data":{"name":"t5"},"mark":{"type":"line","strokeWidth":0.7,"interpolate":"catmull-rom"},"encoding":{"x":{"field":"x","type":"quantitative","scale":{"domain":[-8,8]},"axis":{"labels":false,"ticks":false,"title":null}},"y":{"field":"p","type":"quantitative","scale":{"domain":[0,3.51]},"axis":null},"color":{"field":"g","type":"nominal"}}},
{"width":10,"height":10,"data":{"name":"none"},"mark":{"type":"point"},"encoding":{}},
{"width":186,"height":114,"view":{"stroke":"#262626"},"data":{"name":"s3"},"mark":{"type":"circle","size":185,"opacity":1},"encoding":{"x":{"field":"x","type":"quantitative","title":"Dimension 1","scale":{"domain":[-8,8]},"axis":{"values":[-5,0,5],"labelExpr":"''+datum.value"}},"y":{"field":"y","type":"quantitative","title":"Dimension 2","scale":{"domain":[-8,8]},"axis":{"values":[-5,0,5],"labelExpr":"''+datum.value"}},"color":{"field":"g","type":"nominal"}}},
{"width":120,"height":114,"data":{"name":"r3"},"mark":{"type":"line","strokeWidth":0.7,"interpolate":"catmull-rom"},"encoding":{"x":{"field":"p","type":"quantitative","scale":{"domain":[0,3.33]},"axis":null},"y":{"field":"y","type":"quantitative","scale":{"domain":[-8,8]},"axis":{"values":[-5,0,5],"labels":false,"title":null,"tickSize":2.5}},"order":{"field":"y","type":"quantitative"},"color":{"field":"g","type":"nominal"}}},
{"width":186,"height":114,"view":{"stroke":"#262626"},"data":{"name":"s4"},"mark":{"type":"circle","size":185,"opacity":1},"encoding":{"x":{"field":"x","type":"quantitative","title":"Dimension 1","scale":{"domain":[-8,8]},"axis":{"values":[-5,0,5],"labelExpr":"''+datum.value"}},"y":{"field":"y","type":"quantitative","title":"Dimension 2","scale":{"domain":[-8,8]},"axis":{"values":[-5,0,5],"labelExpr":"''+datum.value"}},"color":{"field":"g","type":"nominal"}}},
{"width":120,"height":114,"data":{"name":"r4"},"mark":{"type":"line","strokeWidth":0.7,"interpolate":"catmull-rom"},"encoding":{"x":{"field":"p","type":"quantitative","scale":{"domain":[0,3.33]},"axis":null},"y":{"field":"y","type":"quantitative","scale":{"domain":[-8,8]},"axis":{"values":[-5,0,5],"labels":false,"title":null,"tickSize":2.5}},"order":{"field":"y","type":"quantitative"},"color":{"field":"g","type":"nominal"}}},
{"width":186,"height":114,"view":{"stroke":"#262626"},"data":{"name":"s5"},"mark":{"type":"circle","size":185,"opacity":1},"encoding":{"x":{"field":"x","type":"quantitative","title":"Dimension 1","scale":{"domain":[-8,8]},"axis":{"values":[-5,0,5],"labelExpr":"''+datum.value"}},"y":{"field":"y","type":"quantitative","title":"Dimension 2","scale":{"domain":[-8,8]},"axis":{"values":[-5,0,5],"labelExpr":"''+datum.value"}},"color":{"field":"g","type":"nominal"}}},
{"width":120,"height":114,"data":{"name":"r5"},"mark":{"type":"line","strokeWidth":0.7,"interpolate":"catmull-rom"},"encoding":{"x":{"field":"p","type":"quantitative","scale":{"domain":[0,3.33]},"axis":null},"y":{"field":"y","type":"quantitative","scale":{"domain":[-8,8]},"axis":{"values":[-5,0,5],"labels":false,"title":null,"tickSize":2.5}},"order":{"field":"y","type":"quantitative"},"color":{"field":"g","type":"nominal"}}},
{"width":186,"height":130,"title":{"text":"d = 3","offset":-87},"data":{"name":"t6"},"mark":{"type":"line","strokeWidth":0.7,"interpolate":"catmull-rom"},"encoding":{"x":{"field":"x","type":"quantitative","scale":{"domain":[-8,8]},"axis":{"labels":false,"ticks":false,"title":null}},"y":{"field":"p","type":"quantitative","scale":{"domain":[0,3.51]},"axis":null},"color":{"field":"g","type":"nominal"}}},
{"width":10,"height":10,"data":{"name":"none"},"mark":{"type":"point"},"encoding":{}},
{"width":186,"height":130,"title":{"text":"d = 3.5","offset":-87},"data":{"name":"t7"},"mark":{"type":"line","strokeWidth":0.7,"interpolate":"catmull-rom"},"encoding":{"x":{"field":"x","type":"quantitative","scale":{"domain":[-8,8]},"axis":{"labels":false,"ticks":false,"title":null}},"y":{"field":"p","type":"quantitative","scale":{"domain":[0,3.51]},"axis":null},"color":{"field":"g","type":"nominal"}}},
{"width":10,"height":10,"data":{"name":"none"},"mark":{"type":"point"},"encoding":{}},
{"width":186,"height":130,"title":{"text":"d = 4","offset":-87},"data":{"name":"t8"},"mark":{"type":"line","strokeWidth":0.7,"interpolate":"catmull-rom"},"encoding":{"x":{"field":"x","type":"quantitative","scale":{"domain":[-8,8]},"axis":{"labels":false,"ticks":false,"title":null}},"y":{"field":"p","type":"quantitative","scale":{"domain":[0,3.51]},"axis":null},"color":{"field":"g","type":"nominal"}}},
{"width":10,"height":10,"data":{"name":"none"},"mark":{"type":"point"},"encoding":{}},
{"width":186,"height":114,"view":{"stroke":"#262626"},"data":{"name":"s6"},"mark":{"type":"circle","size":185,"opacity":1},"encoding":{"x":{"field":"x","type":"quantitative","title":"Dimension 1","scale":{"domain":[-8,8]},"axis":{"values":[-5,0,5],"labelExpr":"''+datum.value"}},"y":{"field":"y","type":"quantitative","title":"Dimension 2","scale":{"domain":[-8,8]},"axis":{"values":[-5,0,5],"labelExpr":"''+datum.value"}},"color":{"field":"g","type":"nominal"}}},
{"width":120,"height":114,"data":{"name":"r6"},"mark":{"type":"line","strokeWidth":0.7,"interpolate":"catmull-rom"},"encoding":{"x":{"field":"p","type":"quantitative","scale":{"domain":[0,3.33]},"axis":null},"y":{"field":"y","type":"quantitative","scale":{"domain":[-8,8]},"axis":{"values":[-5,0,5],"labels":false,"title":null,"tickSize":2.5}},"order":{"field":"y","type":"quantitative"},"color":{"field":"g","type":"nominal"}}},
{"width":186,"height":114,"view":{"stroke":"#262626"},"data":{"name":"s7"},"mark":{"type":"circle","size":185,"opacity":1},"encoding":{"x":{"field":"x","type":"quantitative","title":"Dimension 1","scale":{"domain":[-8,8]},"axis":{"values":[-5,0,5],"labelExpr":"''+datum.value"}},"y":{"field":"y","type":"quantitative","title":"Dimension 2","scale":{"domain":[-8,8]},"axis":{"values":[-5,0,5],"labelExpr":"''+datum.value"}},"color":{"field":"g","type":"nominal"}}},
{"width":120,"height":114,"data":{"name":"r7"},"mark":{"type":"line","strokeWidth":0.7,"interpolate":"catmull-rom"},"encoding":{"x":{"field":"p","type":"quantitative","scale":{"domain":[0,3.33]},"axis":null},"y":{"field":"y","type":"quantitative","scale":{"domain":[-8,8]},"axis":{"values":[-5,0,5],"labels":false,"title":null,"tickSize":2.5}},"order":{"field":"y","type":"quantitative"},"color":{"field":"g","type":"nominal"}}},
{"width":186,"height":114,"view":{"stroke":"#262626"},"data":{"name":"s8"},"mark":{"type":"circle","size":185,"opacity":1},"encoding":{"x":{"field":"x","type":"quantitative","title":"Dimension 1","scale":{"domain":[-8,8]},"axis":{"values":[-5,0,5],"labelExpr":"''+datum.value"}},"y":{"field":"y","type":"quantitative","title":"Dimension 2","scale":{"domain":[-8,8]},"axis":{"values":[-5,0,5],"labelExpr":"''+datum.value"}},"color":{"field":"g","type":"nominal"}}},
{"width":120,"height":114,"data":{"name":"r8"},"mark":{"type":"line","strokeWidth":0.7,"interpolate":"catmull-rom"},"encoding":{"x":{"field":"p","type":"quantitative","scale":{"domain":[0,3.33]},"axis":null},"y":{"field":"y","type":"quantitative","scale":{"domain":[-8,8]},"axis":{"values":[-5,0,5],"labels":false,"title":null,"tickSize":2.5}},"order":{"field":"y","type":"quantitative"},"color":{"field":"g","type":"nominal"}}}
]}
